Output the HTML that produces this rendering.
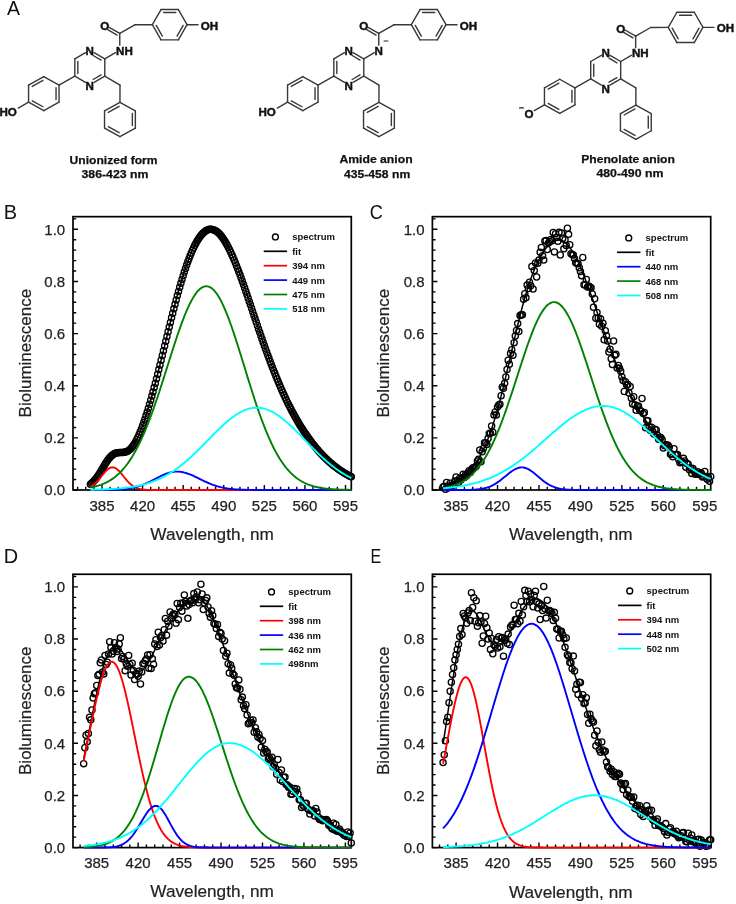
<!DOCTYPE html><html><head><meta charset="utf-8"><style>html,body{margin:0;padding:0;background:#fff;}svg{display:block;will-change:transform;}text{font-family:"Liberation Sans",sans-serif;}</style></head><body>
<svg width="736" height="904" viewBox="0 0 736 904">
<rect width="736" height="904" fill="#fff"/>
<text transform="translate(6.90,14.80) scale(0.93,1)" font-size="21" fill="#111">A</text>
<text transform="translate(3.75,218.90) scale(0.97,1)" font-size="20.6" fill="#111">B</text>
<text transform="translate(369.80,219.30) scale(0.93,1)" font-size="19.5" fill="#111">C</text>
<text transform="translate(3.66,562.70) scale(1.0,1)" font-size="19.9" fill="#111">D</text>
<text transform="translate(370.50,562.90) scale(0.79,1)" font-size="20.3" fill="#111">E</text>
<line x1="74.82" y1="58.80" x2="85.48" y2="52.61" stroke="#383838" stroke-width="1.4" stroke-linecap="round"/>
<line x1="94.12" y1="52.61" x2="104.78" y2="58.80" stroke="#383838" stroke-width="1.4" stroke-linecap="round"/>
<line x1="104.78" y1="58.80" x2="104.78" y2="76.20" stroke="#383838" stroke-width="1.4" stroke-linecap="round"/>
<line x1="104.78" y1="76.20" x2="94.12" y2="82.39" stroke="#383838" stroke-width="1.4" stroke-linecap="round"/>
<line x1="85.48" y1="82.39" x2="74.82" y2="76.20" stroke="#383838" stroke-width="1.4" stroke-linecap="round"/>
<line x1="74.82" y1="76.20" x2="74.82" y2="58.80" stroke="#383838" stroke-width="1.4" stroke-linecap="round"/>
<line x1="77.82" y1="73.60" x2="77.82" y2="61.40" stroke="#383838" stroke-width="1.4" stroke-linecap="round"/>
<line x1="93.14" y1="55.51" x2="101.03" y2="60.09" stroke="#383838" stroke-width="1.4" stroke-linecap="round"/>
<line x1="101.03" y1="74.91" x2="93.14" y2="79.49" stroke="#383838" stroke-width="1.4" stroke-linecap="round"/>
<line x1="104.78" y1="58.80" x2="115.43" y2="52.65" stroke="#383838" stroke-width="1.4" stroke-linecap="round"/>
<line x1="119.76" y1="45.15" x2="119.76" y2="33.45" stroke="#383838" stroke-width="1.4" stroke-linecap="round"/>
<line x1="119.76" y1="33.45" x2="109.11" y2="27.30" stroke="#383838" stroke-width="1.4" stroke-linecap="round"/>
<line x1="117.07" y1="35.12" x2="107.71" y2="29.72" stroke="#383838" stroke-width="1.4" stroke-linecap="round"/>
<line x1="119.76" y1="33.45" x2="134.75" y2="24.80" stroke="#383838" stroke-width="1.4" stroke-linecap="round"/>
<line x1="134.75" y1="24.80" x2="152.35" y2="24.70" stroke="#383838" stroke-width="1.4" stroke-linecap="round"/>
<line x1="152.35" y1="24.70" x2="161.02" y2="9.54" stroke="#383838" stroke-width="1.4" stroke-linecap="round"/>
<line x1="161.02" y1="9.54" x2="178.38" y2="9.54" stroke="#383838" stroke-width="1.4" stroke-linecap="round"/>
<line x1="178.38" y1="9.54" x2="187.05" y2="24.70" stroke="#383838" stroke-width="1.4" stroke-linecap="round"/>
<line x1="187.05" y1="24.70" x2="178.37" y2="39.86" stroke="#383838" stroke-width="1.4" stroke-linecap="round"/>
<line x1="178.37" y1="39.86" x2="161.03" y2="39.86" stroke="#383838" stroke-width="1.4" stroke-linecap="round"/>
<line x1="161.03" y1="39.86" x2="152.35" y2="24.70" stroke="#383838" stroke-width="1.4" stroke-linecap="round"/>
<line x1="163.62" y1="12.54" x2="175.78" y2="12.54" stroke="#383838" stroke-width="1.4" stroke-linecap="round"/>
<line x1="183.15" y1="25.47" x2="177.06" y2="36.11" stroke="#383838" stroke-width="1.4" stroke-linecap="round"/>
<line x1="162.34" y1="36.11" x2="156.25" y2="25.47" stroke="#383838" stroke-width="1.4" stroke-linecap="round"/>
<line x1="187.05" y1="24.70" x2="198.05" y2="24.70" stroke="#383838" stroke-width="1.4" stroke-linecap="round"/>
<line x1="74.82" y1="76.20" x2="59.04" y2="85.07" stroke="#383838" stroke-width="1.4" stroke-linecap="round"/>
<line x1="43.80" y1="76.55" x2="59.04" y2="85.07" stroke="#383838" stroke-width="1.4" stroke-linecap="round"/>
<line x1="59.04" y1="85.07" x2="59.04" y2="102.12" stroke="#383838" stroke-width="1.4" stroke-linecap="round"/>
<line x1="59.04" y1="102.12" x2="43.80" y2="110.65" stroke="#383838" stroke-width="1.4" stroke-linecap="round"/>
<line x1="43.80" y1="110.65" x2="28.56" y2="102.12" stroke="#383838" stroke-width="1.4" stroke-linecap="round"/>
<line x1="28.56" y1="102.12" x2="28.56" y2="85.07" stroke="#383838" stroke-width="1.4" stroke-linecap="round"/>
<line x1="28.56" y1="85.07" x2="43.80" y2="76.55" stroke="#383838" stroke-width="1.4" stroke-linecap="round"/>
<line x1="32.29" y1="86.42" x2="43.00" y2="80.44" stroke="#383838" stroke-width="1.4" stroke-linecap="round"/>
<line x1="56.04" y1="87.67" x2="56.04" y2="99.53" stroke="#383838" stroke-width="1.4" stroke-linecap="round"/>
<line x1="43.00" y1="106.76" x2="32.29" y2="100.78" stroke="#383838" stroke-width="1.4" stroke-linecap="round"/>
<line x1="28.56" y1="102.12" x2="18.34" y2="108.03" stroke="#383838" stroke-width="1.4" stroke-linecap="round"/>
<line x1="104.78" y1="76.20" x2="120.00" y2="85.20" stroke="#383838" stroke-width="1.4" stroke-linecap="round"/>
<line x1="120.00" y1="85.20" x2="119.95" y2="102.40" stroke="#383838" stroke-width="1.4" stroke-linecap="round"/>
<line x1="119.95" y1="102.40" x2="135.37" y2="110.95" stroke="#383838" stroke-width="1.4" stroke-linecap="round"/>
<line x1="135.37" y1="110.95" x2="135.37" y2="128.05" stroke="#383838" stroke-width="1.4" stroke-linecap="round"/>
<line x1="135.37" y1="128.05" x2="119.95" y2="136.60" stroke="#383838" stroke-width="1.4" stroke-linecap="round"/>
<line x1="119.95" y1="136.60" x2="104.53" y2="128.05" stroke="#383838" stroke-width="1.4" stroke-linecap="round"/>
<line x1="104.53" y1="128.05" x2="104.53" y2="110.95" stroke="#383838" stroke-width="1.4" stroke-linecap="round"/>
<line x1="104.53" y1="110.95" x2="119.95" y2="102.40" stroke="#383838" stroke-width="1.4" stroke-linecap="round"/>
<line x1="108.26" y1="112.31" x2="119.13" y2="106.28" stroke="#383838" stroke-width="1.4" stroke-linecap="round"/>
<line x1="132.37" y1="113.55" x2="132.37" y2="125.45" stroke="#383838" stroke-width="1.4" stroke-linecap="round"/>
<line x1="119.13" y1="132.72" x2="108.26" y2="126.69" stroke="#383838" stroke-width="1.4" stroke-linecap="round"/>
<text x="89.80" y="54.70" font-size="11.6" font-weight="bold" text-anchor="middle" fill="#111" stroke="#111" stroke-width="0.45" >N</text>
<text x="89.80" y="89.80" font-size="11.6" font-weight="bold" text-anchor="middle" fill="#111" stroke="#111" stroke-width="0.45" >N</text>
<text x="116.06" y="54.75" font-size="11.6" font-weight="bold" text-anchor="start" fill="#111" stroke="#111" stroke-width="0.45" >NH</text>
<text x="104.78" y="30.10" font-size="11.6" font-weight="bold" text-anchor="middle" fill="#111" stroke="#111" stroke-width="0.45" >O</text>
<text x="200.85" y="29.60" font-size="11.6" font-weight="bold" text-anchor="start" fill="#111" stroke="#111" stroke-width="0.45" >OH</text>
<text x="16.78" y="115.67" font-size="11.6" font-weight="bold" text-anchor="end" fill="#111" stroke="#111" stroke-width="0.45" >HO</text>
<line x1="333.82" y1="58.80" x2="344.48" y2="52.61" stroke="#383838" stroke-width="1.4" stroke-linecap="round"/>
<line x1="353.12" y1="52.61" x2="363.78" y2="58.80" stroke="#383838" stroke-width="1.4" stroke-linecap="round"/>
<line x1="363.78" y1="58.80" x2="363.78" y2="76.20" stroke="#383838" stroke-width="1.4" stroke-linecap="round"/>
<line x1="363.78" y1="76.20" x2="353.12" y2="82.39" stroke="#383838" stroke-width="1.4" stroke-linecap="round"/>
<line x1="344.48" y1="82.39" x2="333.82" y2="76.20" stroke="#383838" stroke-width="1.4" stroke-linecap="round"/>
<line x1="333.82" y1="76.20" x2="333.82" y2="58.80" stroke="#383838" stroke-width="1.4" stroke-linecap="round"/>
<line x1="336.82" y1="73.60" x2="336.82" y2="61.40" stroke="#383838" stroke-width="1.4" stroke-linecap="round"/>
<line x1="352.14" y1="55.51" x2="360.03" y2="60.09" stroke="#383838" stroke-width="1.4" stroke-linecap="round"/>
<line x1="360.03" y1="74.91" x2="352.14" y2="79.49" stroke="#383838" stroke-width="1.4" stroke-linecap="round"/>
<line x1="363.78" y1="58.80" x2="374.43" y2="52.65" stroke="#383838" stroke-width="1.4" stroke-linecap="round"/>
<line x1="378.76" y1="45.15" x2="378.76" y2="33.45" stroke="#383838" stroke-width="1.4" stroke-linecap="round"/>
<line x1="378.76" y1="33.45" x2="368.11" y2="27.30" stroke="#383838" stroke-width="1.4" stroke-linecap="round"/>
<line x1="376.07" y1="35.12" x2="366.71" y2="29.72" stroke="#383838" stroke-width="1.4" stroke-linecap="round"/>
<line x1="378.76" y1="33.45" x2="393.75" y2="24.80" stroke="#383838" stroke-width="1.4" stroke-linecap="round"/>
<line x1="393.75" y1="24.80" x2="411.35" y2="24.70" stroke="#383838" stroke-width="1.4" stroke-linecap="round"/>
<line x1="411.35" y1="24.70" x2="420.02" y2="9.54" stroke="#383838" stroke-width="1.4" stroke-linecap="round"/>
<line x1="420.02" y1="9.54" x2="437.38" y2="9.54" stroke="#383838" stroke-width="1.4" stroke-linecap="round"/>
<line x1="437.38" y1="9.54" x2="446.05" y2="24.70" stroke="#383838" stroke-width="1.4" stroke-linecap="round"/>
<line x1="446.05" y1="24.70" x2="437.38" y2="39.86" stroke="#383838" stroke-width="1.4" stroke-linecap="round"/>
<line x1="437.38" y1="39.86" x2="420.02" y2="39.86" stroke="#383838" stroke-width="1.4" stroke-linecap="round"/>
<line x1="420.02" y1="39.86" x2="411.35" y2="24.70" stroke="#383838" stroke-width="1.4" stroke-linecap="round"/>
<line x1="422.62" y1="12.54" x2="434.77" y2="12.54" stroke="#383838" stroke-width="1.4" stroke-linecap="round"/>
<line x1="442.15" y1="25.47" x2="436.06" y2="36.11" stroke="#383838" stroke-width="1.4" stroke-linecap="round"/>
<line x1="421.34" y1="36.11" x2="415.25" y2="25.47" stroke="#383838" stroke-width="1.4" stroke-linecap="round"/>
<line x1="446.05" y1="24.70" x2="457.05" y2="24.70" stroke="#383838" stroke-width="1.4" stroke-linecap="round"/>
<line x1="333.82" y1="76.20" x2="318.04" y2="85.07" stroke="#383838" stroke-width="1.4" stroke-linecap="round"/>
<line x1="302.80" y1="76.55" x2="318.04" y2="85.07" stroke="#383838" stroke-width="1.4" stroke-linecap="round"/>
<line x1="318.04" y1="85.07" x2="318.04" y2="102.12" stroke="#383838" stroke-width="1.4" stroke-linecap="round"/>
<line x1="318.04" y1="102.12" x2="302.80" y2="110.65" stroke="#383838" stroke-width="1.4" stroke-linecap="round"/>
<line x1="302.80" y1="110.65" x2="287.56" y2="102.12" stroke="#383838" stroke-width="1.4" stroke-linecap="round"/>
<line x1="287.56" y1="102.12" x2="287.56" y2="85.07" stroke="#383838" stroke-width="1.4" stroke-linecap="round"/>
<line x1="287.56" y1="85.07" x2="302.80" y2="76.55" stroke="#383838" stroke-width="1.4" stroke-linecap="round"/>
<line x1="291.29" y1="86.42" x2="302.00" y2="80.44" stroke="#383838" stroke-width="1.4" stroke-linecap="round"/>
<line x1="315.04" y1="87.67" x2="315.04" y2="99.53" stroke="#383838" stroke-width="1.4" stroke-linecap="round"/>
<line x1="302.00" y1="106.76" x2="291.29" y2="100.78" stroke="#383838" stroke-width="1.4" stroke-linecap="round"/>
<line x1="287.56" y1="102.12" x2="277.34" y2="108.03" stroke="#383838" stroke-width="1.4" stroke-linecap="round"/>
<line x1="363.78" y1="76.20" x2="379.00" y2="85.20" stroke="#383838" stroke-width="1.4" stroke-linecap="round"/>
<line x1="379.00" y1="85.20" x2="378.95" y2="102.40" stroke="#383838" stroke-width="1.4" stroke-linecap="round"/>
<line x1="378.95" y1="102.40" x2="394.37" y2="110.95" stroke="#383838" stroke-width="1.4" stroke-linecap="round"/>
<line x1="394.37" y1="110.95" x2="394.37" y2="128.05" stroke="#383838" stroke-width="1.4" stroke-linecap="round"/>
<line x1="394.37" y1="128.05" x2="378.95" y2="136.60" stroke="#383838" stroke-width="1.4" stroke-linecap="round"/>
<line x1="378.95" y1="136.60" x2="363.53" y2="128.05" stroke="#383838" stroke-width="1.4" stroke-linecap="round"/>
<line x1="363.53" y1="128.05" x2="363.53" y2="110.95" stroke="#383838" stroke-width="1.4" stroke-linecap="round"/>
<line x1="363.53" y1="110.95" x2="378.95" y2="102.40" stroke="#383838" stroke-width="1.4" stroke-linecap="round"/>
<line x1="367.26" y1="112.31" x2="378.13" y2="106.28" stroke="#383838" stroke-width="1.4" stroke-linecap="round"/>
<line x1="391.37" y1="113.55" x2="391.37" y2="125.45" stroke="#383838" stroke-width="1.4" stroke-linecap="round"/>
<line x1="378.13" y1="132.72" x2="367.26" y2="126.69" stroke="#383838" stroke-width="1.4" stroke-linecap="round"/>
<text x="348.80" y="54.70" font-size="11.6" font-weight="bold" text-anchor="middle" fill="#111" stroke="#111" stroke-width="0.45" >N</text>
<text x="348.80" y="89.80" font-size="11.6" font-weight="bold" text-anchor="middle" fill="#111" stroke="#111" stroke-width="0.45" >N</text>
<text x="378.76" y="54.75" font-size="11.6" font-weight="bold" text-anchor="middle" fill="#111" stroke="#111" stroke-width="0.45" >N</text>
<line x1="384.06" y1="40.95" x2="387.96" y2="40.95" stroke="#222" stroke-width="1.1" stroke-linecap="round"/>
<text x="363.78" y="30.10" font-size="11.6" font-weight="bold" text-anchor="middle" fill="#111" stroke="#111" stroke-width="0.45" >O</text>
<text x="459.85" y="29.60" font-size="11.6" font-weight="bold" text-anchor="start" fill="#111" stroke="#111" stroke-width="0.45" >OH</text>
<text x="275.78" y="115.67" font-size="11.6" font-weight="bold" text-anchor="end" fill="#111" stroke="#111" stroke-width="0.45" >HO</text>
<line x1="590.72" y1="61.50" x2="601.38" y2="55.31" stroke="#383838" stroke-width="1.4" stroke-linecap="round"/>
<line x1="610.02" y1="55.31" x2="620.68" y2="61.50" stroke="#383838" stroke-width="1.4" stroke-linecap="round"/>
<line x1="620.68" y1="61.50" x2="620.68" y2="78.90" stroke="#383838" stroke-width="1.4" stroke-linecap="round"/>
<line x1="620.68" y1="78.90" x2="610.02" y2="85.09" stroke="#383838" stroke-width="1.4" stroke-linecap="round"/>
<line x1="601.38" y1="85.09" x2="590.72" y2="78.90" stroke="#383838" stroke-width="1.4" stroke-linecap="round"/>
<line x1="590.72" y1="78.90" x2="590.72" y2="61.50" stroke="#383838" stroke-width="1.4" stroke-linecap="round"/>
<line x1="593.72" y1="76.30" x2="593.72" y2="64.10" stroke="#383838" stroke-width="1.4" stroke-linecap="round"/>
<line x1="609.04" y1="58.21" x2="616.93" y2="62.79" stroke="#383838" stroke-width="1.4" stroke-linecap="round"/>
<line x1="616.93" y1="77.61" x2="609.04" y2="82.19" stroke="#383838" stroke-width="1.4" stroke-linecap="round"/>
<line x1="620.68" y1="61.50" x2="631.33" y2="55.35" stroke="#383838" stroke-width="1.4" stroke-linecap="round"/>
<line x1="635.66" y1="47.85" x2="635.66" y2="36.15" stroke="#383838" stroke-width="1.4" stroke-linecap="round"/>
<line x1="635.66" y1="36.15" x2="625.01" y2="30.00" stroke="#383838" stroke-width="1.4" stroke-linecap="round"/>
<line x1="632.97" y1="37.82" x2="623.61" y2="32.42" stroke="#383838" stroke-width="1.4" stroke-linecap="round"/>
<line x1="635.66" y1="36.15" x2="650.65" y2="27.50" stroke="#383838" stroke-width="1.4" stroke-linecap="round"/>
<line x1="650.65" y1="27.50" x2="668.25" y2="27.40" stroke="#383838" stroke-width="1.4" stroke-linecap="round"/>
<line x1="668.25" y1="27.40" x2="676.92" y2="12.24" stroke="#383838" stroke-width="1.4" stroke-linecap="round"/>
<line x1="676.92" y1="12.24" x2="694.27" y2="12.24" stroke="#383838" stroke-width="1.4" stroke-linecap="round"/>
<line x1="694.27" y1="12.24" x2="702.95" y2="27.40" stroke="#383838" stroke-width="1.4" stroke-linecap="round"/>
<line x1="702.95" y1="27.40" x2="694.27" y2="42.56" stroke="#383838" stroke-width="1.4" stroke-linecap="round"/>
<line x1="694.27" y1="42.56" x2="676.92" y2="42.56" stroke="#383838" stroke-width="1.4" stroke-linecap="round"/>
<line x1="676.92" y1="42.56" x2="668.25" y2="27.40" stroke="#383838" stroke-width="1.4" stroke-linecap="round"/>
<line x1="679.52" y1="15.24" x2="691.67" y2="15.24" stroke="#383838" stroke-width="1.4" stroke-linecap="round"/>
<line x1="699.05" y1="28.17" x2="692.96" y2="38.81" stroke="#383838" stroke-width="1.4" stroke-linecap="round"/>
<line x1="678.24" y1="38.81" x2="672.15" y2="28.17" stroke="#383838" stroke-width="1.4" stroke-linecap="round"/>
<line x1="702.95" y1="27.40" x2="713.95" y2="27.40" stroke="#383838" stroke-width="1.4" stroke-linecap="round"/>
<line x1="590.72" y1="78.90" x2="574.94" y2="87.78" stroke="#383838" stroke-width="1.4" stroke-linecap="round"/>
<line x1="559.70" y1="79.25" x2="574.94" y2="87.78" stroke="#383838" stroke-width="1.4" stroke-linecap="round"/>
<line x1="574.94" y1="87.78" x2="574.94" y2="104.82" stroke="#383838" stroke-width="1.4" stroke-linecap="round"/>
<line x1="574.94" y1="104.82" x2="559.70" y2="113.35" stroke="#383838" stroke-width="1.4" stroke-linecap="round"/>
<line x1="559.70" y1="113.35" x2="544.46" y2="104.82" stroke="#383838" stroke-width="1.4" stroke-linecap="round"/>
<line x1="544.46" y1="104.82" x2="544.46" y2="87.77" stroke="#383838" stroke-width="1.4" stroke-linecap="round"/>
<line x1="544.46" y1="87.77" x2="559.70" y2="79.25" stroke="#383838" stroke-width="1.4" stroke-linecap="round"/>
<line x1="548.19" y1="89.12" x2="558.90" y2="83.14" stroke="#383838" stroke-width="1.4" stroke-linecap="round"/>
<line x1="571.94" y1="90.38" x2="571.94" y2="102.22" stroke="#383838" stroke-width="1.4" stroke-linecap="round"/>
<line x1="558.90" y1="109.46" x2="548.19" y2="103.48" stroke="#383838" stroke-width="1.4" stroke-linecap="round"/>
<line x1="544.46" y1="104.82" x2="534.24" y2="110.72" stroke="#383838" stroke-width="1.4" stroke-linecap="round"/>
<line x1="620.68" y1="78.90" x2="635.90" y2="87.90" stroke="#383838" stroke-width="1.4" stroke-linecap="round"/>
<line x1="635.90" y1="87.90" x2="635.85" y2="105.10" stroke="#383838" stroke-width="1.4" stroke-linecap="round"/>
<line x1="635.85" y1="105.10" x2="651.27" y2="113.65" stroke="#383838" stroke-width="1.4" stroke-linecap="round"/>
<line x1="651.27" y1="113.65" x2="651.27" y2="130.75" stroke="#383838" stroke-width="1.4" stroke-linecap="round"/>
<line x1="651.27" y1="130.75" x2="635.85" y2="139.30" stroke="#383838" stroke-width="1.4" stroke-linecap="round"/>
<line x1="635.85" y1="139.30" x2="620.43" y2="130.75" stroke="#383838" stroke-width="1.4" stroke-linecap="round"/>
<line x1="620.43" y1="130.75" x2="620.43" y2="113.65" stroke="#383838" stroke-width="1.4" stroke-linecap="round"/>
<line x1="620.43" y1="113.65" x2="635.85" y2="105.10" stroke="#383838" stroke-width="1.4" stroke-linecap="round"/>
<line x1="624.16" y1="115.01" x2="635.03" y2="108.98" stroke="#383838" stroke-width="1.4" stroke-linecap="round"/>
<line x1="648.27" y1="116.25" x2="648.27" y2="128.15" stroke="#383838" stroke-width="1.4" stroke-linecap="round"/>
<line x1="635.03" y1="135.42" x2="624.16" y2="129.39" stroke="#383838" stroke-width="1.4" stroke-linecap="round"/>
<text x="605.70" y="57.40" font-size="11.6" font-weight="bold" text-anchor="middle" fill="#111" stroke="#111" stroke-width="0.45" >N</text>
<text x="605.70" y="92.50" font-size="11.6" font-weight="bold" text-anchor="middle" fill="#111" stroke="#111" stroke-width="0.45" >N</text>
<text x="631.96" y="57.45" font-size="11.6" font-weight="bold" text-anchor="start" fill="#111" stroke="#111" stroke-width="0.45" >NH</text>
<text x="620.68" y="32.80" font-size="11.6" font-weight="bold" text-anchor="middle" fill="#111" stroke="#111" stroke-width="0.45" >O</text>
<text x="716.75" y="32.30" font-size="11.6" font-weight="bold" text-anchor="start" fill="#111" stroke="#111" stroke-width="0.45" >OH</text>
<text x="528.98" y="118.17" font-size="11.6" font-weight="bold" text-anchor="middle" fill="#111" stroke="#111" stroke-width="0.45" >O</text>
<line x1="519.48" y1="107.88" x2="523.48" y2="107.88" stroke="#222" stroke-width="1.1" stroke-linecap="round"/>
<text x="113.55" y="163.70" font-size="11.2" font-weight="bold" text-anchor="middle" fill="#111" stroke="#111" stroke-width="0.25" textLength="87.9" lengthAdjust="spacingAndGlyphs">Unionized form</text>
<text x="115.00" y="177.80" font-size="11.2" font-weight="bold" text-anchor="middle" fill="#111" stroke="#111" stroke-width="0.25" textLength="67.0" lengthAdjust="spacingAndGlyphs">386-423 nm</text>
<text x="376.00" y="163.10" font-size="11.2" font-weight="bold" text-anchor="middle" fill="#111" stroke="#111" stroke-width="0.25" textLength="73.2" lengthAdjust="spacingAndGlyphs">Amide anion</text>
<text x="377.10" y="177.80" font-size="11.2" font-weight="bold" text-anchor="middle" fill="#111" stroke="#111" stroke-width="0.25" textLength="66.2" lengthAdjust="spacingAndGlyphs">435-458 nm</text>
<text x="628.05" y="162.80" font-size="11.2" font-weight="bold" text-anchor="middle" fill="#111" stroke="#111" stroke-width="0.25" textLength="93.7" lengthAdjust="spacingAndGlyphs">Phenolate anion</text>
<text x="629.90" y="176.80" font-size="11.2" font-weight="bold" text-anchor="middle" fill="#111" stroke="#111" stroke-width="0.25" textLength="67.0" lengthAdjust="spacingAndGlyphs">480-490 nm</text>
<rect x="73.00" y="216.66" width="278.30" height="273.34" fill="none" stroke="#000" stroke-width="1.7"/>
<path d="M73.00,490.00h5.0 M73.00,479.57h3.2 M73.00,469.14h3.2 M73.00,458.72h3.2 M73.00,448.29h3.2 M73.00,437.86h5.0 M73.00,427.43h3.2 M73.00,417.00h3.2 M73.00,406.58h3.2 M73.00,396.15h3.2 M73.00,385.72h5.0 M73.00,375.29h3.2 M73.00,364.86h3.2 M73.00,354.44h3.2 M73.00,344.01h3.2 M73.00,333.58h5.0 M73.00,323.15h3.2 M73.00,312.72h3.2 M73.00,302.30h3.2 M73.00,291.87h3.2 M73.00,281.44h5.0 M73.00,271.01h3.2 M73.00,260.58h3.2 M73.00,250.16h3.2 M73.00,239.73h3.2 M73.00,229.30h5.0 M73.00,218.87h3.2 M77.64,490.00v-3.2 M85.76,490.00v-3.2 M93.87,490.00v-3.2 M101.99,490.00v-5.0 M110.11,490.00v-3.2 M118.22,490.00v-3.2 M126.34,490.00v-3.2 M134.46,490.00v-3.2 M142.57,490.00v-5.0 M150.69,490.00v-3.2 M158.81,490.00v-3.2 M166.93,490.00v-3.2 M175.04,490.00v-3.2 M183.16,490.00v-5.0 M191.28,490.00v-3.2 M199.39,490.00v-3.2 M207.51,490.00v-3.2 M215.63,490.00v-3.2 M223.75,490.00v-5.0 M231.86,490.00v-3.2 M239.98,490.00v-3.2 M248.10,490.00v-3.2 M256.21,490.00v-3.2 M264.33,490.00v-5.0 M272.45,490.00v-3.2 M280.57,490.00v-3.2 M288.68,490.00v-3.2 M296.80,490.00v-3.2 M304.92,490.00v-5.0 M313.03,490.00v-3.2 M321.15,490.00v-3.2 M329.27,490.00v-3.2 M337.38,490.00v-3.2 M345.50,490.00v-5.0" stroke="#000" stroke-width="1.4" fill="none"/>
<text x="65.20" y="495.30" font-size="15" text-anchor="end" fill="#222" stroke="#222" stroke-width="0.25">0.0</text>
<text x="65.20" y="443.16" font-size="15" text-anchor="end" fill="#222" stroke="#222" stroke-width="0.25">0.2</text>
<text x="65.20" y="391.02" font-size="15" text-anchor="end" fill="#222" stroke="#222" stroke-width="0.25">0.4</text>
<text x="65.20" y="338.88" font-size="15" text-anchor="end" fill="#222" stroke="#222" stroke-width="0.25">0.6</text>
<text x="65.20" y="286.74" font-size="15" text-anchor="end" fill="#222" stroke="#222" stroke-width="0.25">0.8</text>
<text x="65.20" y="234.60" font-size="15" text-anchor="end" fill="#222" stroke="#222" stroke-width="0.25">1.0</text>
<text x="101.99" y="510.80" font-size="15" text-anchor="middle" fill="#222" stroke="#222" stroke-width="0.25">385</text>
<text x="142.57" y="510.80" font-size="15" text-anchor="middle" fill="#222" stroke="#222" stroke-width="0.25">420</text>
<text x="183.16" y="510.80" font-size="15" text-anchor="middle" fill="#222" stroke="#222" stroke-width="0.25">455</text>
<text x="223.75" y="510.80" font-size="15" text-anchor="middle" fill="#222" stroke="#222" stroke-width="0.25">490</text>
<text x="264.33" y="510.80" font-size="15" text-anchor="middle" fill="#222" stroke="#222" stroke-width="0.25">525</text>
<text x="304.92" y="510.80" font-size="15" text-anchor="middle" fill="#222" stroke="#222" stroke-width="0.25">560</text>
<text x="345.50" y="510.80" font-size="15" text-anchor="middle" fill="#222" stroke="#222" stroke-width="0.25">595</text>
<text x="212.15" y="539.80" font-size="17.2" text-anchor="middle" fill="#222" stroke="#222" stroke-width="0.2">Wavelength, nm</text>
<text transform="translate(30.50,353.13) rotate(-90)" font-size="17" text-anchor="middle" fill="#222" stroke="#222" stroke-width="0.2">Bioluminescence</text>
<g fill="none" stroke="#000" stroke-width="1.3"><circle cx="90.39" cy="484.26" r="3.1"/><circle cx="91.55" cy="483.32" r="3.1"/><circle cx="92.71" cy="482.25" r="3.1"/><circle cx="93.87" cy="481.05" r="3.1"/><circle cx="95.03" cy="479.71" r="3.1"/><circle cx="96.19" cy="478.24" r="3.1"/><circle cx="97.35" cy="476.65" r="3.1"/><circle cx="98.51" cy="474.94" r="3.1"/><circle cx="99.67" cy="473.14" r="3.1"/><circle cx="100.83" cy="471.26" r="3.1"/><circle cx="101.99" cy="469.34" r="3.1"/><circle cx="103.15" cy="467.40" r="3.1"/><circle cx="104.31" cy="465.47" r="3.1"/><circle cx="105.47" cy="463.59" r="3.1"/><circle cx="106.63" cy="461.79" r="3.1"/><circle cx="107.79" cy="460.11" r="3.1"/><circle cx="108.95" cy="458.57" r="3.1"/><circle cx="110.11" cy="457.19" r="3.1"/><circle cx="111.27" cy="456.00" r="3.1"/><circle cx="112.43" cy="455.00" r="3.1"/><circle cx="113.59" cy="454.19" r="3.1"/><circle cx="114.75" cy="453.57" r="3.1"/><circle cx="115.90" cy="453.12" r="3.1"/><circle cx="117.06" cy="452.82" r="3.1"/><circle cx="118.22" cy="452.64" r="3.1"/><circle cx="119.38" cy="452.55" r="3.1"/><circle cx="120.54" cy="452.51" r="3.1"/><circle cx="121.70" cy="452.47" r="3.1"/><circle cx="122.86" cy="452.41" r="3.1"/><circle cx="124.02" cy="452.28" r="3.1"/><circle cx="125.18" cy="452.04" r="3.1"/><circle cx="126.34" cy="451.67" r="3.1"/><circle cx="127.50" cy="451.15" r="3.1"/><circle cx="128.66" cy="450.43" r="3.1"/><circle cx="129.82" cy="449.53" r="3.1"/><circle cx="130.98" cy="448.41" r="3.1"/><circle cx="132.14" cy="447.07" r="3.1"/><circle cx="133.30" cy="445.52" r="3.1"/><circle cx="134.46" cy="443.75" r="3.1"/><circle cx="135.62" cy="441.76" r="3.1"/><circle cx="136.78" cy="439.57" r="3.1"/><circle cx="137.94" cy="437.18" r="3.1"/><circle cx="139.10" cy="434.60" r="3.1"/><circle cx="140.26" cy="431.84" r="3.1"/><circle cx="141.42" cy="428.90" r="3.1"/><circle cx="142.57" cy="425.80" r="3.1"/><circle cx="143.73" cy="422.55" r="3.1"/><circle cx="144.89" cy="419.15" r="3.1"/><circle cx="146.05" cy="415.61" r="3.1"/><circle cx="147.21" cy="411.94" r="3.1"/><circle cx="148.37" cy="408.15" r="3.1"/><circle cx="149.53" cy="404.24" r="3.1"/><circle cx="150.69" cy="400.22" r="3.1"/><circle cx="151.85" cy="396.10" r="3.1"/><circle cx="153.01" cy="391.88" r="3.1"/><circle cx="154.17" cy="387.57" r="3.1"/><circle cx="155.33" cy="383.18" r="3.1"/><circle cx="156.49" cy="378.72" r="3.1"/><circle cx="157.65" cy="374.19" r="3.1"/><circle cx="158.81" cy="369.60" r="3.1"/><circle cx="159.97" cy="364.96" r="3.1"/><circle cx="161.13" cy="360.27" r="3.1"/><circle cx="162.29" cy="355.56" r="3.1"/><circle cx="163.45" cy="350.82" r="3.1"/><circle cx="164.61" cy="346.07" r="3.1"/><circle cx="165.77" cy="341.31" r="3.1"/><circle cx="166.93" cy="336.56" r="3.1"/><circle cx="168.09" cy="331.83" r="3.1"/><circle cx="169.25" cy="327.11" r="3.1"/><circle cx="170.41" cy="322.44" r="3.1"/><circle cx="171.56" cy="317.80" r="3.1"/><circle cx="172.72" cy="313.22" r="3.1"/><circle cx="173.88" cy="308.70" r="3.1"/><circle cx="175.04" cy="304.25" r="3.1"/><circle cx="176.20" cy="299.88" r="3.1"/><circle cx="177.36" cy="295.59" r="3.1"/><circle cx="178.52" cy="291.39" r="3.1"/><circle cx="179.68" cy="287.29" r="3.1"/><circle cx="180.84" cy="283.30" r="3.1"/><circle cx="182.00" cy="279.41" r="3.1"/><circle cx="183.16" cy="275.64" r="3.1"/><circle cx="184.32" cy="271.99" r="3.1"/><circle cx="185.48" cy="268.46" r="3.1"/><circle cx="186.64" cy="265.07" r="3.1"/><circle cx="187.80" cy="261.82" r="3.1"/><circle cx="188.96" cy="258.70" r="3.1"/><circle cx="190.12" cy="255.73" r="3.1"/><circle cx="191.28" cy="252.90" r="3.1"/><circle cx="192.44" cy="250.23" r="3.1"/><circle cx="193.60" cy="247.71" r="3.1"/><circle cx="194.76" cy="245.34" r="3.1"/><circle cx="195.92" cy="243.13" r="3.1"/><circle cx="197.08" cy="241.09" r="3.1"/><circle cx="198.24" cy="239.20" r="3.1"/><circle cx="199.39" cy="237.47" r="3.1"/><circle cx="200.55" cy="235.91" r="3.1"/><circle cx="201.71" cy="234.51" r="3.1"/><circle cx="202.87" cy="233.28" r="3.1"/><circle cx="204.03" cy="232.20" r="3.1"/><circle cx="205.19" cy="231.30" r="3.1"/><circle cx="206.35" cy="230.56" r="3.1"/><circle cx="207.51" cy="229.98" r="3.1"/><circle cx="208.67" cy="229.58" r="3.1"/><circle cx="209.83" cy="229.36" r="3.1"/><circle cx="210.99" cy="229.30" r="3.1"/><circle cx="212.15" cy="229.41" r="3.1"/><circle cx="213.31" cy="229.69" r="3.1"/><circle cx="214.47" cy="230.14" r="3.1"/><circle cx="215.63" cy="230.75" r="3.1"/><circle cx="216.79" cy="231.53" r="3.1"/><circle cx="217.95" cy="232.46" r="3.1"/><circle cx="219.11" cy="233.55" r="3.1"/><circle cx="220.27" cy="234.78" r="3.1"/><circle cx="221.43" cy="236.17" r="3.1"/><circle cx="222.59" cy="237.71" r="3.1"/><circle cx="223.75" cy="239.38" r="3.1"/><circle cx="224.91" cy="241.19" r="3.1"/><circle cx="226.06" cy="243.13" r="3.1"/><circle cx="227.22" cy="245.20" r="3.1"/><circle cx="228.38" cy="247.39" r="3.1"/><circle cx="229.54" cy="249.70" r="3.1"/><circle cx="230.70" cy="252.13" r="3.1"/><circle cx="231.86" cy="254.65" r="3.1"/><circle cx="233.02" cy="257.28" r="3.1"/><circle cx="234.18" cy="260.01" r="3.1"/><circle cx="235.34" cy="262.82" r="3.1"/><circle cx="236.50" cy="265.72" r="3.1"/><circle cx="237.66" cy="268.69" r="3.1"/><circle cx="238.82" cy="271.74" r="3.1"/><circle cx="239.98" cy="274.85" r="3.1"/><circle cx="241.14" cy="278.02" r="3.1"/><circle cx="242.30" cy="281.24" r="3.1"/><circle cx="243.46" cy="284.51" r="3.1"/><circle cx="244.62" cy="287.82" r="3.1"/><circle cx="245.78" cy="291.17" r="3.1"/><circle cx="246.94" cy="294.55" r="3.1"/><circle cx="248.10" cy="297.96" r="3.1"/><circle cx="249.26" cy="301.38" r="3.1"/><circle cx="250.42" cy="304.82" r="3.1"/><circle cx="251.58" cy="308.26" r="3.1"/><circle cx="252.74" cy="311.71" r="3.1"/><circle cx="253.90" cy="315.16" r="3.1"/><circle cx="255.05" cy="318.61" r="3.1"/><circle cx="256.21" cy="322.05" r="3.1"/><circle cx="257.37" cy="325.47" r="3.1"/><circle cx="258.53" cy="328.88" r="3.1"/><circle cx="259.69" cy="332.27" r="3.1"/><circle cx="260.85" cy="335.63" r="3.1"/><circle cx="262.01" cy="338.97" r="3.1"/><circle cx="263.17" cy="342.29" r="3.1"/><circle cx="264.33" cy="345.57" r="3.1"/><circle cx="265.49" cy="348.81" r="3.1"/><circle cx="266.65" cy="352.03" r="3.1"/><circle cx="267.81" cy="355.20" r="3.1"/><circle cx="268.97" cy="358.34" r="3.1"/><circle cx="270.13" cy="361.43" r="3.1"/><circle cx="271.29" cy="364.48" r="3.1"/><circle cx="272.45" cy="367.49" r="3.1"/><circle cx="273.61" cy="370.45" r="3.1"/><circle cx="274.77" cy="373.37" r="3.1"/><circle cx="275.93" cy="376.24" r="3.1"/><circle cx="277.09" cy="379.07" r="3.1"/><circle cx="278.25" cy="381.85" r="3.1"/><circle cx="279.41" cy="384.58" r="3.1"/><circle cx="280.57" cy="387.26" r="3.1"/><circle cx="281.73" cy="389.90" r="3.1"/><circle cx="282.88" cy="392.49" r="3.1"/><circle cx="284.04" cy="395.03" r="3.1"/><circle cx="285.20" cy="397.53" r="3.1"/><circle cx="286.36" cy="399.97" r="3.1"/><circle cx="287.52" cy="402.38" r="3.1"/><circle cx="288.68" cy="404.71" r="3.1"/><circle cx="289.84" cy="407.00" r="3.1"/><circle cx="291.00" cy="409.25" r="3.1"/><circle cx="292.16" cy="411.45" r="3.1"/><circle cx="293.32" cy="413.60" r="3.1"/><circle cx="294.48" cy="415.72" r="3.1"/><circle cx="295.64" cy="417.79" r="3.1"/><circle cx="296.80" cy="419.81" r="3.1"/><circle cx="297.96" cy="421.80" r="3.1"/><circle cx="299.12" cy="423.75" r="3.1"/><circle cx="300.28" cy="425.65" r="3.1"/><circle cx="301.44" cy="427.52" r="3.1"/><circle cx="302.60" cy="429.35" r="3.1"/><circle cx="303.76" cy="431.14" r="3.1"/><circle cx="304.92" cy="432.89" r="3.1"/><circle cx="306.08" cy="434.60" r="3.1"/><circle cx="307.24" cy="436.28" r="3.1"/><circle cx="308.40" cy="437.92" r="3.1"/><circle cx="309.56" cy="439.52" r="3.1"/><circle cx="310.71" cy="441.09" r="3.1"/><circle cx="311.87" cy="442.63" r="3.1"/><circle cx="313.03" cy="444.13" r="3.1"/><circle cx="314.19" cy="445.59" r="3.1"/><circle cx="315.35" cy="447.03" r="3.1"/><circle cx="316.51" cy="448.43" r="3.1"/><circle cx="317.67" cy="449.79" r="3.1"/><circle cx="318.83" cy="451.13" r="3.1"/><circle cx="319.99" cy="452.43" r="3.1"/><circle cx="321.15" cy="453.70" r="3.1"/><circle cx="322.31" cy="454.94" r="3.1"/><circle cx="323.47" cy="456.15" r="3.1"/><circle cx="324.63" cy="457.33" r="3.1"/><circle cx="325.79" cy="458.47" r="3.1"/><circle cx="326.95" cy="459.59" r="3.1"/><circle cx="328.11" cy="460.68" r="3.1"/><circle cx="329.27" cy="461.74" r="3.1"/><circle cx="330.43" cy="462.77" r="3.1"/><circle cx="331.59" cy="463.77" r="3.1"/><circle cx="332.75" cy="464.74" r="3.1"/><circle cx="333.91" cy="465.69" r="3.1"/><circle cx="335.07" cy="466.61" r="3.1"/><circle cx="336.23" cy="467.50" r="3.1"/><circle cx="337.38" cy="468.36" r="3.1"/><circle cx="338.54" cy="469.20" r="3.1"/><circle cx="339.70" cy="470.01" r="3.1"/><circle cx="340.86" cy="470.79" r="3.1"/><circle cx="342.02" cy="471.55" r="3.1"/><circle cx="343.18" cy="472.29" r="3.1"/><circle cx="344.34" cy="473.00" r="3.1"/><circle cx="345.50" cy="473.68" r="3.1"/><circle cx="346.66" cy="474.37" r="3.1"/><circle cx="347.82" cy="475.03" r="3.1"/><circle cx="348.98" cy="475.66" r="3.1"/><circle cx="350.14" cy="476.28" r="3.1"/><circle cx="351.30" cy="476.87" r="3.1"/></g>
<polyline points="90.39,484.25 91.55,483.31 92.71,482.24 93.87,481.03 95.03,479.70 96.19,478.23 97.35,476.63 98.51,474.92 99.67,473.12 100.83,471.24 101.99,469.31 103.15,467.37 104.31,465.44 105.47,463.56 106.63,461.76 107.79,460.07 108.95,458.53 110.11,457.15 111.27,455.96 112.43,454.96 113.59,454.15 114.75,453.53 115.90,453.08 117.06,452.78 118.22,452.60 119.38,452.51 120.54,452.46 121.70,452.43 122.86,452.36 124.02,452.23 125.18,452.00 126.34,451.63 127.50,451.10 128.66,450.39 129.82,449.48 130.98,448.36 132.14,447.02 133.30,445.47 134.46,443.69 135.62,441.71 136.78,439.51 137.94,437.12 139.10,434.53 140.26,431.77 141.42,428.83 142.57,425.72 143.73,422.47 144.89,419.06 146.05,415.52 147.21,411.85 148.37,408.05 149.53,404.14 150.69,400.11 151.85,395.98 153.01,391.76 154.17,387.45 155.33,383.05 156.49,378.58 157.65,374.05 158.81,369.45 159.97,364.81 161.13,360.12 162.29,355.40 163.45,350.66 164.61,345.90 165.77,341.14 166.93,336.38 168.09,331.64 169.25,326.92 170.41,322.24 171.56,317.59 172.72,313.01 173.88,308.48 175.04,304.03 176.20,299.65 177.36,295.36 178.52,291.16 179.68,287.05 180.84,283.05 182.00,279.16 183.16,275.38 184.32,271.73 185.48,268.20 186.64,264.80 187.80,261.54 188.96,258.42 190.12,255.45 191.28,252.62 192.44,249.94 193.60,247.42 194.76,245.05 195.92,242.84 197.08,240.79 198.24,238.90 199.39,237.17 200.55,235.60 201.71,234.20 202.87,232.97 204.03,231.90 205.19,230.99 206.35,230.25 207.51,229.67 208.67,229.27 209.83,229.04 210.99,228.99 212.15,229.10 213.31,229.38 214.47,229.83 215.63,230.44 216.79,231.22 217.95,232.15 219.11,233.24 220.27,234.48 221.43,235.87 222.59,237.40 223.75,239.08 224.91,240.89 226.06,242.84 227.22,244.91 228.38,247.10 229.54,249.42 230.70,251.84 231.86,254.37 233.02,257.00 234.18,259.73 235.34,262.55 236.50,265.45 237.66,268.43 238.82,271.47 239.98,274.59 241.14,277.76 242.30,280.99 243.46,284.27 244.62,287.58 245.78,290.94 246.94,294.32 248.10,297.73 249.26,301.15 250.42,304.59 251.58,308.05 252.74,311.50 253.90,314.95 255.05,318.40 256.21,321.84 257.37,325.27 258.53,328.68 259.69,332.08 260.85,335.45 262.01,338.79 263.17,342.11 264.33,345.39 265.49,348.64 266.65,351.86 267.81,355.04 268.97,358.18 270.13,361.28 271.29,364.33 272.45,367.34 273.61,370.31 274.77,373.23 275.93,376.11 277.09,378.94 278.25,381.72 279.41,384.45 280.57,387.14 281.73,389.78 282.88,392.37 284.04,394.92 285.20,397.41 286.36,399.87 287.52,402.27 288.68,404.63 289.84,406.94 291.00,409.21 292.16,411.44 293.32,413.62 294.48,415.75 295.64,417.85 296.80,419.90 297.96,421.91 299.12,423.88 300.28,425.81 301.44,427.70 302.60,429.55 303.76,431.36 304.92,433.13 306.08,434.87 307.24,436.57 308.40,438.23 309.56,439.86 310.71,441.45 311.87,443.01 313.03,444.53 314.19,446.02 315.35,447.48 316.51,448.90 317.67,450.29 318.83,451.64 319.99,452.97 321.15,454.26 322.31,455.52 323.47,456.75 324.63,457.95 325.79,459.12 326.95,460.26 328.11,461.38 329.27,462.46 330.43,463.51 331.59,464.53 332.75,465.53 333.91,466.49 335.07,467.43 336.23,468.35 337.38,469.23 338.54,470.09 339.70,470.92 340.86,471.73 342.02,472.51 343.18,473.27 344.34,474.00 345.50,474.71 346.66,475.39 347.82,476.05 348.98,476.69 350.14,477.30 351.30,477.90" fill="none" stroke="#000" stroke-width="1.5" stroke-linejoin="round"/>
<polyline points="90.39,486.93 91.55,486.23 92.71,485.43 93.87,484.51 95.03,483.48 96.19,482.34 97.35,481.11 98.51,479.79 99.67,478.40 100.83,476.97 101.99,475.52 103.15,474.09 104.31,472.71 105.47,471.42 106.63,470.25 107.79,469.24 108.95,468.42 110.11,467.82 111.27,467.44 112.43,467.32 113.59,467.44 114.75,467.82 115.90,468.42 117.06,469.24 118.22,470.25 119.38,471.42 120.54,472.71 121.70,474.09 122.86,475.52 124.02,476.97 125.18,478.40 126.34,479.79 127.50,481.11 128.66,482.34 129.82,483.48 130.98,484.51 132.14,485.43 133.30,486.23 134.46,486.93 135.62,487.53 136.78,488.03 137.94,488.45 139.10,488.79 140.26,489.07 141.42,489.29 142.57,489.46 143.73,489.60 144.89,489.71 146.05,489.79 147.21,489.85 148.37,489.89 149.53,489.92 150.69,489.95 151.85,489.96 153.01,489.97 154.17,489.98 155.33,489.99 156.49,489.99 157.65,490.00 158.81,490.00 159.97,490.00 161.13,490.00 162.29,490.00 163.45,490.00 164.61,490.00 165.77,490.00 166.93,490.00 168.09,490.00 169.25,490.00 170.41,490.00 171.56,490.00 172.72,490.00 173.88,490.00 175.04,490.00 176.20,490.00 177.36,490.00 178.52,490.00 179.68,490.00 180.84,490.00 182.00,490.00 183.16,490.00 184.32,490.00 185.48,490.00 186.64,490.00 187.80,490.00 188.96,490.00 190.12,490.00 191.28,490.00 192.44,490.00 193.60,490.00 194.76,490.00 195.92,490.00 197.08,490.00 198.24,490.00 199.39,490.00 200.55,490.00 201.71,490.00 202.87,490.00 204.03,490.00 205.19,490.00 206.35,490.00 207.51,490.00 208.67,490.00 209.83,490.00 210.99,490.00 212.15,490.00 213.31,490.00 214.47,490.00 215.63,490.00 216.79,490.00 217.95,490.00 219.11,490.00 220.27,490.00 221.43,490.00 222.59,490.00 223.75,490.00 224.91,490.00 226.06,490.00 227.22,490.00 228.38,490.00 229.54,490.00 230.70,490.00 231.86,490.00 233.02,490.00 234.18,490.00 235.34,490.00 236.50,490.00 237.66,490.00 238.82,490.00 239.98,490.00 241.14,490.00 242.30,490.00 243.46,490.00 244.62,490.00 245.78,490.00 246.94,490.00 248.10,490.00 249.26,490.00 250.42,490.00 251.58,490.00 252.74,490.00 253.90,490.00 255.05,490.00 256.21,490.00 257.37,490.00 258.53,490.00 259.69,490.00 260.85,490.00 262.01,490.00 263.17,490.00 264.33,490.00 265.49,490.00 266.65,490.00 267.81,490.00 268.97,490.00 270.13,490.00 271.29,490.00 272.45,490.00 273.61,490.00 274.77,490.00 275.93,490.00 277.09,490.00 278.25,490.00 279.41,490.00 280.57,490.00 281.73,490.00 282.88,490.00 284.04,490.00 285.20,490.00 286.36,490.00 287.52,490.00 288.68,490.00 289.84,490.00 291.00,490.00 292.16,490.00 293.32,490.00 294.48,490.00 295.64,490.00 296.80,490.00 297.96,490.00 299.12,490.00 300.28,490.00 301.44,490.00 302.60,490.00 303.76,490.00 304.92,490.00 306.08,490.00 307.24,490.00 308.40,490.00 309.56,490.00 310.71,490.00 311.87,490.00 313.03,490.00 314.19,490.00 315.35,490.00 316.51,490.00 317.67,490.00 318.83,490.00 319.99,490.00 321.15,490.00 322.31,490.00 323.47,490.00 324.63,490.00 325.79,490.00 326.95,490.00 328.11,490.00 329.27,490.00 330.43,490.00 331.59,490.00 332.75,490.00 333.91,490.00 335.07,490.00 336.23,490.00 337.38,490.00 338.54,490.00 339.70,490.00 340.86,490.00 342.02,490.00 343.18,490.00 344.34,490.00 345.50,490.00 346.66,490.00 347.82,490.00 348.98,490.00 350.14,490.00 351.30,490.00" fill="none" stroke="#ff0000" stroke-width="1.9" stroke-linejoin="round"/>
<polyline points="90.39,489.99 91.55,489.99 92.71,489.99 93.87,489.99 95.03,489.99 96.19,489.98 97.35,489.98 98.51,489.98 99.67,489.97 100.83,489.97 101.99,489.96 103.15,489.95 104.31,489.94 105.47,489.93 106.63,489.91 107.79,489.90 108.95,489.88 110.11,489.86 111.27,489.83 112.43,489.80 113.59,489.76 114.75,489.72 115.90,489.68 117.06,489.62 118.22,489.56 119.38,489.49 120.54,489.42 121.70,489.33 122.86,489.23 124.02,489.12 125.18,488.99 126.34,488.85 127.50,488.70 128.66,488.53 129.82,488.34 130.98,488.14 132.14,487.91 133.30,487.67 134.46,487.40 135.62,487.11 136.78,486.80 137.94,486.46 139.10,486.10 140.26,485.72 141.42,485.31 142.57,484.88 143.73,484.43 144.89,483.95 146.05,483.45 147.21,482.93 148.37,482.40 149.53,481.84 150.69,481.27 151.85,480.69 153.01,480.10 154.17,479.50 155.33,478.90 156.49,478.29 157.65,477.69 158.81,477.10 159.97,476.52 161.13,475.95 162.29,475.40 163.45,474.88 164.61,474.38 165.77,473.91 166.93,473.48 168.09,473.08 169.25,472.73 170.41,472.42 171.56,472.15 172.72,471.94 173.88,471.78 175.04,471.66 176.20,471.60 177.36,471.60 178.52,471.64 179.68,471.73 180.84,471.87 182.00,472.06 183.16,472.29 184.32,472.56 185.48,472.87 186.64,473.23 187.80,473.61 188.96,474.03 190.12,474.49 191.28,474.96 192.44,475.47 193.60,475.99 194.76,476.53 195.92,477.08 197.08,477.64 198.24,478.21 199.39,478.78 200.55,479.35 201.71,479.92 202.87,480.49 204.03,481.04 205.19,481.59 206.35,482.12 207.51,482.64 208.67,483.14 209.83,483.63 210.99,484.09 212.15,484.54 213.31,484.97 214.47,485.37 215.63,485.75 216.79,486.12 217.95,486.46 219.11,486.78 220.27,487.07 221.43,487.35 222.59,487.61 223.75,487.85 224.91,488.07 226.06,488.27 227.22,488.45 228.38,488.62 229.54,488.78 230.70,488.91 231.86,489.04 233.02,489.15 234.18,489.26 235.34,489.35 236.50,489.43 237.66,489.50 238.82,489.57 239.98,489.62 241.14,489.67 242.30,489.72 243.46,489.76 244.62,489.79 245.78,489.82 246.94,489.85 248.10,489.87 249.26,489.89 250.42,489.91 251.58,489.92 252.74,489.93 253.90,489.94 255.05,489.95 256.21,489.96 257.37,489.97 258.53,489.97 259.69,489.98 260.85,489.98 262.01,489.98 263.17,489.99 264.33,489.99 265.49,489.99 266.65,489.99 267.81,489.99 268.97,490.00 270.13,490.00 271.29,490.00 272.45,490.00 273.61,490.00 274.77,490.00 275.93,490.00 277.09,490.00 278.25,490.00 279.41,490.00 280.57,490.00 281.73,490.00 282.88,490.00 284.04,490.00 285.20,490.00 286.36,490.00 287.52,490.00 288.68,490.00 289.84,490.00 291.00,490.00 292.16,490.00 293.32,490.00 294.48,490.00 295.64,490.00 296.80,490.00 297.96,490.00 299.12,490.00 300.28,490.00 301.44,490.00 302.60,490.00 303.76,490.00 304.92,490.00 306.08,490.00 307.24,490.00 308.40,490.00 309.56,490.00 310.71,490.00 311.87,490.00 313.03,490.00 314.19,490.00 315.35,490.00 316.51,490.00 317.67,490.00 318.83,490.00 319.99,490.00 321.15,490.00 322.31,490.00 323.47,490.00 324.63,490.00 325.79,490.00 326.95,490.00 328.11,490.00 329.27,490.00 330.43,490.00 331.59,490.00 332.75,490.00 333.91,490.00 335.07,490.00 336.23,490.00 337.38,490.00 338.54,490.00 339.70,490.00 340.86,490.00 342.02,490.00 343.18,490.00 344.34,490.00 345.50,490.00 346.66,490.00 347.82,490.00 348.98,490.00 350.14,490.00 351.30,490.00" fill="none" stroke="#0000ff" stroke-width="1.9" stroke-linejoin="round"/>
<polyline points="90.39,487.57 91.55,487.35 92.71,487.10 93.87,486.84 95.03,486.56 96.19,486.26 97.35,485.93 98.51,485.58 99.67,485.20 100.83,484.80 101.99,484.36 103.15,483.90 104.31,483.40 105.47,482.87 106.63,482.30 107.79,481.69 108.95,481.05 110.11,480.36 111.27,479.63 112.43,478.85 113.59,478.03 114.75,477.16 115.90,476.23 117.06,475.25 118.22,474.22 119.38,473.13 120.54,471.98 121.70,470.77 122.86,469.49 124.02,468.15 125.18,466.74 126.34,465.26 127.50,463.72 128.66,462.10 129.82,460.40 130.98,458.64 132.14,456.79 133.30,454.87 134.46,452.87 135.62,450.79 136.78,448.63 137.94,446.40 139.10,444.08 140.26,441.68 141.42,439.20 142.57,436.64 143.73,434.00 144.89,431.28 146.05,428.49 147.21,425.61 148.37,422.67 149.53,419.65 150.69,416.56 151.85,413.41 153.01,410.19 154.17,406.90 155.33,403.56 156.49,400.17 157.65,396.72 158.81,393.23 159.97,389.70 161.13,386.12 162.29,382.52 163.45,378.89 164.61,375.24 165.77,371.57 166.93,367.90 168.09,364.22 169.25,360.55 170.41,356.88 171.56,353.24 172.72,349.62 173.88,346.03 175.04,342.48 176.20,338.98 177.36,335.53 178.52,332.14 179.68,328.82 180.84,325.57 182.00,322.41 183.16,319.34 184.32,316.37 185.48,313.50 186.64,310.74 187.80,308.10 188.96,305.59 190.12,303.20 191.28,300.96 192.44,298.85 193.60,296.89 194.76,295.09 195.92,293.44 197.08,291.96 198.24,290.64 199.39,289.49 200.55,288.51 201.71,287.70 202.87,287.07 204.03,286.62 205.19,286.35 206.35,286.26 207.51,286.36 208.67,286.64 209.83,287.12 210.99,287.78 212.15,288.63 213.31,289.66 214.47,290.88 215.63,292.27 216.79,293.84 217.95,295.57 219.11,297.47 220.27,299.53 221.43,301.74 222.59,304.11 223.75,306.61 224.91,309.25 226.06,312.02 227.22,314.91 228.38,317.91 229.54,321.02 230.70,324.23 231.86,327.53 233.02,330.91 234.18,334.37 235.34,337.89 236.50,341.48 237.66,345.11 238.82,348.79 239.98,352.51 241.14,356.25 242.30,360.01 243.46,363.78 244.62,367.56 245.78,371.34 246.94,375.10 248.10,378.86 249.26,382.59 250.42,386.29 251.58,389.96 252.74,393.58 253.90,397.17 255.05,400.70 256.21,404.18 257.37,407.60 258.53,410.96 259.69,414.25 260.85,417.48 262.01,420.63 263.17,423.70 264.33,426.70 265.49,429.62 266.65,432.46 267.81,435.22 268.97,437.89 270.13,440.48 271.29,442.99 272.45,445.41 273.61,447.74 274.77,449.99 275.93,452.16 277.09,454.24 278.25,456.24 279.41,458.15 280.57,459.99 281.73,461.75 282.88,463.43 284.04,465.03 285.20,466.56 286.36,468.01 287.52,469.39 288.68,470.71 289.84,471.96 291.00,473.14 292.16,474.26 293.32,475.32 294.48,476.32 295.64,477.26 296.80,478.15 297.96,478.99 299.12,479.78 300.28,480.52 301.44,481.22 302.60,481.87 303.76,482.48 304.92,483.05 306.08,483.59 307.24,484.08 308.40,484.55 309.56,484.98 310.71,485.39 311.87,485.76 313.03,486.11 314.19,486.43 315.35,486.73 316.51,487.01 317.67,487.26 318.83,487.50 319.99,487.72 321.15,487.92 322.31,488.10 323.47,488.27 324.63,488.43 325.79,488.57 326.95,488.70 328.11,488.82 329.27,488.94 330.43,489.04 331.59,489.13 332.75,489.21 333.91,489.29 335.07,489.36 336.23,489.42 337.38,489.48 338.54,489.53 339.70,489.58 340.86,489.62 342.02,489.66 343.18,489.70 344.34,489.73 345.50,489.76 346.66,489.78 347.82,489.81 348.98,489.83 350.14,489.85 351.30,489.86" fill="none" stroke="#008000" stroke-width="1.9" stroke-linejoin="round"/>
<polyline points="90.39,489.76 91.55,489.74 92.71,489.72 93.87,489.69 95.03,489.67 96.19,489.64 97.35,489.61 98.51,489.58 99.67,489.55 100.83,489.51 101.99,489.47 103.15,489.43 104.31,489.39 105.47,489.34 106.63,489.29 107.79,489.24 108.95,489.18 110.11,489.12 111.27,489.05 112.43,488.98 113.59,488.91 114.75,488.83 115.90,488.75 117.06,488.66 118.22,488.56 119.38,488.46 120.54,488.36 121.70,488.24 122.86,488.12 124.02,488.00 125.18,487.86 126.34,487.72 127.50,487.57 128.66,487.42 129.82,487.25 130.98,487.07 132.14,486.89 133.30,486.69 134.46,486.49 135.62,486.27 136.78,486.05 137.94,485.81 139.10,485.56 140.26,485.30 141.42,485.03 142.57,484.74 143.73,484.44 144.89,484.12 146.05,483.80 147.21,483.45 148.37,483.09 149.53,482.72 150.69,482.33 151.85,481.92 153.01,481.50 154.17,481.06 155.33,480.60 156.49,480.13 157.65,479.64 158.81,479.12 159.97,478.59 161.13,478.04 162.29,477.48 163.45,476.89 164.61,476.28 165.77,475.65 166.93,475.00 168.09,474.33 169.25,473.64 170.41,472.93 171.56,472.20 172.72,471.45 173.88,470.68 175.04,469.88 176.20,469.07 177.36,468.23 178.52,467.38 179.68,466.50 180.84,465.61 182.00,464.69 183.16,463.75 184.32,462.80 185.48,461.83 186.64,460.84 187.80,459.83 188.96,458.80 190.12,457.76 191.28,456.70 192.44,455.63 193.60,454.54 194.76,453.43 195.92,452.32 197.08,451.19 198.24,450.05 199.39,448.90 200.55,447.75 201.71,446.58 202.87,445.41 204.03,444.23 205.19,443.05 206.35,441.86 207.51,440.67 208.67,439.49 209.83,438.30 210.99,437.11 212.15,435.93 213.31,434.75 214.47,433.58 215.63,432.42 216.79,431.27 217.95,430.12 219.11,428.99 220.27,427.87 221.43,426.77 222.59,425.69 223.75,424.62 224.91,423.58 226.06,422.55 227.22,421.55 228.38,420.57 229.54,419.62 230.70,418.70 231.86,417.80 233.02,416.94 234.18,416.11 235.34,415.31 236.50,414.54 237.66,413.81 238.82,413.12 239.98,412.46 241.14,411.84 242.30,411.26 243.46,410.73 244.62,410.23 245.78,409.78 246.94,409.37 248.10,409.00 249.26,408.68 250.42,408.40 251.58,408.17 252.74,407.98 253.90,407.84 255.05,407.75 256.21,407.70 257.37,407.70 258.53,407.75 259.69,407.85 260.85,407.99 262.01,408.18 263.17,408.42 264.33,408.70 265.49,409.03 266.65,409.41 267.81,409.83 268.97,410.29 270.13,410.80 271.29,411.35 272.45,411.94 273.61,412.57 274.77,413.24 275.93,413.95 277.09,414.70 278.25,415.48 279.41,416.30 280.57,417.15 281.73,418.03 282.88,418.95 284.04,419.89 285.20,420.86 286.36,421.86 287.52,422.88 288.68,423.92 289.84,424.99 291.00,426.07 292.16,427.18 293.32,428.30 294.48,429.43 295.64,430.58 296.80,431.74 297.96,432.92 299.12,434.10 300.28,435.28 301.44,436.48 302.60,437.68 303.76,438.88 304.92,440.08 306.08,441.28 307.24,442.48 308.40,443.68 309.56,444.88 310.71,446.07 311.87,447.25 313.03,448.42 314.19,449.59 315.35,450.75 316.51,451.89 317.67,453.03 318.83,454.15 319.99,455.25 321.15,456.35 322.31,457.42 323.47,458.48 324.63,459.53 325.79,460.55 326.95,461.56 328.11,462.55 329.27,463.52 330.43,464.47 331.59,465.40 332.75,466.31 333.91,467.20 335.07,468.07 336.23,468.92 337.38,469.75 338.54,470.56 339.70,471.34 340.86,472.11 342.02,472.85 343.18,473.57 344.34,474.27 345.50,474.95 346.66,475.61 347.82,476.25 348.98,476.86 350.14,477.46 351.30,478.03" fill="none" stroke="#00ffff" stroke-width="1.9" stroke-linejoin="round"/>
<circle cx="275.40" cy="236.90" r="2.95" fill="none" stroke="#000" stroke-width="1.4"/>
<text x="292.20" y="240.20" font-size="9.5" font-weight="bold" fill="#111">spectrum</text>
<line x1="263.70" y1="251.30" x2="287.10" y2="251.30" stroke="#000" stroke-width="1.7"/>
<text x="292.20" y="254.70" font-size="9.5" font-weight="bold" fill="#111">fit</text>
<line x1="263.70" y1="265.70" x2="287.10" y2="265.70" stroke="#ff0000" stroke-width="1.7"/>
<text x="292.20" y="269.10" font-size="9.5" font-weight="bold" fill="#111">394 nm</text>
<line x1="263.70" y1="280.10" x2="287.10" y2="280.10" stroke="#0000ff" stroke-width="1.7"/>
<text x="292.20" y="283.50" font-size="9.5" font-weight="bold" fill="#111">449 nm</text>
<line x1="263.70" y1="294.50" x2="287.10" y2="294.50" stroke="#008000" stroke-width="1.7"/>
<text x="292.20" y="297.90" font-size="9.5" font-weight="bold" fill="#111">475 nm</text>
<line x1="263.70" y1="308.90" x2="287.10" y2="308.90" stroke="#00ffff" stroke-width="1.7"/>
<text x="292.20" y="312.30" font-size="9.5" font-weight="bold" fill="#111">518 nm</text>
<rect x="432.40" y="216.66" width="278.30" height="273.34" fill="none" stroke="#000" stroke-width="1.7"/>
<path d="M432.40,490.00h5.0 M432.40,479.57h3.2 M432.40,469.14h3.2 M432.40,458.72h3.2 M432.40,448.29h3.2 M432.40,437.86h5.0 M432.40,427.43h3.2 M432.40,417.00h3.2 M432.40,406.58h3.2 M432.40,396.15h3.2 M432.40,385.72h5.0 M432.40,375.29h3.2 M432.40,364.86h3.2 M432.40,354.44h3.2 M432.40,344.01h3.2 M432.40,333.58h5.0 M432.40,323.15h3.2 M432.40,312.72h3.2 M432.40,302.30h3.2 M432.40,291.87h3.2 M432.40,281.44h5.0 M432.40,271.01h3.2 M432.40,260.58h3.2 M432.40,250.16h3.2 M432.40,239.73h3.2 M432.40,229.30h5.0 M432.40,218.87h3.2 M439.51,490.00v-3.2 M447.80,490.00v-3.2 M456.09,490.00v-5.0 M464.37,490.00v-3.2 M472.66,490.00v-3.2 M480.95,490.00v-3.2 M489.24,490.00v-3.2 M497.53,490.00v-5.0 M505.82,490.00v-3.2 M514.11,490.00v-3.2 M522.40,490.00v-3.2 M530.69,490.00v-3.2 M538.98,490.00v-5.0 M547.27,490.00v-3.2 M555.56,490.00v-3.2 M563.85,490.00v-3.2 M572.14,490.00v-3.2 M580.43,490.00v-5.0 M588.72,490.00v-3.2 M597.01,490.00v-3.2 M605.30,490.00v-3.2 M613.59,490.00v-3.2 M621.88,490.00v-5.0 M630.17,490.00v-3.2 M638.46,490.00v-3.2 M646.75,490.00v-3.2 M655.04,490.00v-3.2 M663.33,490.00v-5.0 M671.62,490.00v-3.2 M679.91,490.00v-3.2 M688.20,490.00v-3.2 M696.49,490.00v-3.2 M704.78,490.00v-5.0" stroke="#000" stroke-width="1.4" fill="none"/>
<text x="424.60" y="495.30" font-size="15" text-anchor="end" fill="#222" stroke="#222" stroke-width="0.25">0.0</text>
<text x="424.60" y="443.16" font-size="15" text-anchor="end" fill="#222" stroke="#222" stroke-width="0.25">0.2</text>
<text x="424.60" y="391.02" font-size="15" text-anchor="end" fill="#222" stroke="#222" stroke-width="0.25">0.4</text>
<text x="424.60" y="338.88" font-size="15" text-anchor="end" fill="#222" stroke="#222" stroke-width="0.25">0.6</text>
<text x="424.60" y="286.74" font-size="15" text-anchor="end" fill="#222" stroke="#222" stroke-width="0.25">0.8</text>
<text x="424.60" y="234.60" font-size="15" text-anchor="end" fill="#222" stroke="#222" stroke-width="0.25">1.0</text>
<text x="456.09" y="510.80" font-size="15" text-anchor="middle" fill="#222" stroke="#222" stroke-width="0.25">385</text>
<text x="497.53" y="510.80" font-size="15" text-anchor="middle" fill="#222" stroke="#222" stroke-width="0.25">420</text>
<text x="538.98" y="510.80" font-size="15" text-anchor="middle" fill="#222" stroke="#222" stroke-width="0.25">455</text>
<text x="580.43" y="510.80" font-size="15" text-anchor="middle" fill="#222" stroke="#222" stroke-width="0.25">490</text>
<text x="621.88" y="510.80" font-size="15" text-anchor="middle" fill="#222" stroke="#222" stroke-width="0.25">525</text>
<text x="663.33" y="510.80" font-size="15" text-anchor="middle" fill="#222" stroke="#222" stroke-width="0.25">560</text>
<text x="704.78" y="510.80" font-size="15" text-anchor="middle" fill="#222" stroke="#222" stroke-width="0.25">595</text>
<text x="570.75" y="540.30" font-size="17.2" text-anchor="middle" fill="#222" stroke="#222" stroke-width="0.2">Wavelength, nm</text>
<text transform="translate(389.00,353.13) rotate(-90)" font-size="17" text-anchor="middle" fill="#222" stroke="#222" stroke-width="0.2">Bioluminescence</text>
<g fill="none" stroke="#000" stroke-width="1.3"><circle cx="443.06" cy="487.01" r="3.1"/><circle cx="444.24" cy="486.13" r="3.1"/><circle cx="445.43" cy="489.32" r="3.1"/><circle cx="446.61" cy="482.55" r="3.1"/><circle cx="447.80" cy="488.12" r="3.1"/><circle cx="448.98" cy="486.08" r="3.1"/><circle cx="450.16" cy="483.25" r="3.1"/><circle cx="451.35" cy="485.98" r="3.1"/><circle cx="452.53" cy="485.18" r="3.1"/><circle cx="453.72" cy="484.40" r="3.1"/><circle cx="454.90" cy="481.03" r="3.1"/><circle cx="456.09" cy="476.95" r="3.1"/><circle cx="457.27" cy="480.76" r="3.1"/><circle cx="458.45" cy="482.44" r="3.1"/><circle cx="459.64" cy="478.27" r="3.1"/><circle cx="460.82" cy="479.88" r="3.1"/><circle cx="462.01" cy="477.81" r="3.1"/><circle cx="463.19" cy="474.26" r="3.1"/><circle cx="464.37" cy="477.60" r="3.1"/><circle cx="465.56" cy="474.87" r="3.1"/><circle cx="466.74" cy="475.87" r="3.1"/><circle cx="467.93" cy="473.03" r="3.1"/><circle cx="469.11" cy="470.79" r="3.1"/><circle cx="470.30" cy="472.60" r="3.1"/><circle cx="471.48" cy="469.61" r="3.1"/><circle cx="472.66" cy="467.90" r="3.1"/><circle cx="473.85" cy="467.43" r="3.1"/><circle cx="475.03" cy="467.33" r="3.1"/><circle cx="476.22" cy="466.30" r="3.1"/><circle cx="477.40" cy="460.95" r="3.1"/><circle cx="478.59" cy="459.35" r="3.1"/><circle cx="479.77" cy="449.90" r="3.1"/><circle cx="480.95" cy="461.71" r="3.1"/><circle cx="482.14" cy="451.69" r="3.1"/><circle cx="483.32" cy="448.45" r="3.1"/><circle cx="484.51" cy="442.69" r="3.1"/><circle cx="485.69" cy="442.74" r="3.1"/><circle cx="486.88" cy="444.41" r="3.1"/><circle cx="488.06" cy="438.60" r="3.1"/><circle cx="489.24" cy="433.58" r="3.1"/><circle cx="490.43" cy="433.35" r="3.1"/><circle cx="491.61" cy="425.98" r="3.1"/><circle cx="492.80" cy="432.22" r="3.1"/><circle cx="493.98" cy="414.91" r="3.1"/><circle cx="495.17" cy="411.92" r="3.1"/><circle cx="496.35" cy="414.94" r="3.1"/><circle cx="497.53" cy="406.95" r="3.1"/><circle cx="498.72" cy="404.91" r="3.1"/><circle cx="499.90" cy="404.15" r="3.1"/><circle cx="501.09" cy="395.69" r="3.1"/><circle cx="502.27" cy="386.97" r="3.1"/><circle cx="503.46" cy="388.24" r="3.1"/><circle cx="504.64" cy="383.33" r="3.1"/><circle cx="505.82" cy="376.96" r="3.1"/><circle cx="507.01" cy="369.49" r="3.1"/><circle cx="508.19" cy="360.28" r="3.1"/><circle cx="509.38" cy="364.32" r="3.1"/><circle cx="510.56" cy="353.52" r="3.1"/><circle cx="511.75" cy="349.75" r="3.1"/><circle cx="512.93" cy="355.13" r="3.1"/><circle cx="514.11" cy="342.66" r="3.1"/><circle cx="515.30" cy="336.07" r="3.1"/><circle cx="516.48" cy="330.54" r="3.1"/><circle cx="517.67" cy="323.61" r="3.1"/><circle cx="518.85" cy="331.60" r="3.1"/><circle cx="520.03" cy="315.47" r="3.1"/><circle cx="521.22" cy="314.85" r="3.1"/><circle cx="522.40" cy="314.66" r="3.1"/><circle cx="523.59" cy="299.21" r="3.1"/><circle cx="524.77" cy="293.75" r="3.1"/><circle cx="525.96" cy="297.68" r="3.1"/><circle cx="527.14" cy="285.09" r="3.1"/><circle cx="528.32" cy="288.51" r="3.1"/><circle cx="529.51" cy="282.29" r="3.1"/><circle cx="530.69" cy="285.82" r="3.1"/><circle cx="531.88" cy="266.51" r="3.1"/><circle cx="533.06" cy="288.96" r="3.1"/><circle cx="534.25" cy="270.52" r="3.1"/><circle cx="535.43" cy="262.93" r="3.1"/><circle cx="536.61" cy="276.97" r="3.1"/><circle cx="537.80" cy="263.16" r="3.1"/><circle cx="538.98" cy="260.09" r="3.1"/><circle cx="540.17" cy="252.25" r="3.1"/><circle cx="541.35" cy="247.48" r="3.1"/><circle cx="542.54" cy="255.81" r="3.1"/><circle cx="543.72" cy="260.12" r="3.1"/><circle cx="544.90" cy="241.10" r="3.1"/><circle cx="546.09" cy="240.42" r="3.1"/><circle cx="547.27" cy="249.57" r="3.1"/><circle cx="548.46" cy="243.09" r="3.1"/><circle cx="549.64" cy="241.70" r="3.1"/><circle cx="550.83" cy="239.46" r="3.1"/><circle cx="552.01" cy="240.86" r="3.1"/><circle cx="553.19" cy="232.41" r="3.1"/><circle cx="554.38" cy="251.89" r="3.1"/><circle cx="555.56" cy="233.65" r="3.1"/><circle cx="556.75" cy="237.57" r="3.1"/><circle cx="557.93" cy="241.25" r="3.1"/><circle cx="559.12" cy="232.36" r="3.1"/><circle cx="560.30" cy="255.06" r="3.1"/><circle cx="561.48" cy="232.97" r="3.1"/><circle cx="562.67" cy="238.45" r="3.1"/><circle cx="563.85" cy="248.83" r="3.1"/><circle cx="565.04" cy="239.68" r="3.1"/><circle cx="566.22" cy="245.39" r="3.1"/><circle cx="567.41" cy="228.21" r="3.1"/><circle cx="568.59" cy="234.34" r="3.1"/><circle cx="569.77" cy="244.68" r="3.1"/><circle cx="570.96" cy="253.65" r="3.1"/><circle cx="572.14" cy="254.58" r="3.1"/><circle cx="573.33" cy="254.90" r="3.1"/><circle cx="574.51" cy="258.44" r="3.1"/><circle cx="575.69" cy="262.77" r="3.1"/><circle cx="576.88" cy="263.17" r="3.1"/><circle cx="578.06" cy="263.68" r="3.1"/><circle cx="579.25" cy="267.73" r="3.1"/><circle cx="580.43" cy="271.50" r="3.1"/><circle cx="581.62" cy="275.66" r="3.1"/><circle cx="582.80" cy="257.52" r="3.1"/><circle cx="583.98" cy="284.70" r="3.1"/><circle cx="585.17" cy="284.99" r="3.1"/><circle cx="586.35" cy="279.44" r="3.1"/><circle cx="587.54" cy="287.07" r="3.1"/><circle cx="588.72" cy="285.90" r="3.1"/><circle cx="589.91" cy="287.00" r="3.1"/><circle cx="591.09" cy="287.66" r="3.1"/><circle cx="592.27" cy="293.96" r="3.1"/><circle cx="593.46" cy="307.28" r="3.1"/><circle cx="594.64" cy="298.74" r="3.1"/><circle cx="595.83" cy="318.27" r="3.1"/><circle cx="597.01" cy="312.40" r="3.1"/><circle cx="598.20" cy="317.90" r="3.1"/><circle cx="599.38" cy="324.33" r="3.1"/><circle cx="600.56" cy="318.69" r="3.1"/><circle cx="601.75" cy="326.23" r="3.1"/><circle cx="602.93" cy="323.13" r="3.1"/><circle cx="604.12" cy="339.72" r="3.1"/><circle cx="605.30" cy="330.71" r="3.1"/><circle cx="606.49" cy="335.81" r="3.1"/><circle cx="607.67" cy="340.96" r="3.1"/><circle cx="608.85" cy="352.05" r="3.1"/><circle cx="610.04" cy="349.21" r="3.1"/><circle cx="611.22" cy="358.80" r="3.1"/><circle cx="612.41" cy="364.46" r="3.1"/><circle cx="613.59" cy="340.93" r="3.1"/><circle cx="614.78" cy="355.33" r="3.1"/><circle cx="615.96" cy="354.31" r="3.1"/><circle cx="617.14" cy="367.93" r="3.1"/><circle cx="618.33" cy="365.38" r="3.1"/><circle cx="619.51" cy="368.17" r="3.1"/><circle cx="620.70" cy="371.37" r="3.1"/><circle cx="621.88" cy="376.83" r="3.1"/><circle cx="623.07" cy="380.51" r="3.1"/><circle cx="624.25" cy="391.43" r="3.1"/><circle cx="625.43" cy="381.80" r="3.1"/><circle cx="626.62" cy="385.12" r="3.1"/><circle cx="627.80" cy="384.49" r="3.1"/><circle cx="628.99" cy="392.99" r="3.1"/><circle cx="630.17" cy="386.55" r="3.1"/><circle cx="631.35" cy="398.30" r="3.1"/><circle cx="632.54" cy="403.94" r="3.1"/><circle cx="633.72" cy="396.82" r="3.1"/><circle cx="634.91" cy="404.86" r="3.1"/><circle cx="636.09" cy="410.19" r="3.1"/><circle cx="637.28" cy="406.52" r="3.1"/><circle cx="638.46" cy="405.96" r="3.1"/><circle cx="639.64" cy="410.03" r="3.1"/><circle cx="640.83" cy="410.94" r="3.1"/><circle cx="642.01" cy="398.56" r="3.1"/><circle cx="643.20" cy="413.43" r="3.1"/><circle cx="644.38" cy="412.52" r="3.1"/><circle cx="645.57" cy="427.87" r="3.1"/><circle cx="646.75" cy="420.58" r="3.1"/><circle cx="647.93" cy="420.76" r="3.1"/><circle cx="649.12" cy="426.72" r="3.1"/><circle cx="650.30" cy="430.24" r="3.1"/><circle cx="651.49" cy="427.16" r="3.1"/><circle cx="652.67" cy="431.33" r="3.1"/><circle cx="653.86" cy="433.88" r="3.1"/><circle cx="655.04" cy="429.17" r="3.1"/><circle cx="656.22" cy="430.05" r="3.1"/><circle cx="657.41" cy="435.18" r="3.1"/><circle cx="658.59" cy="439.25" r="3.1"/><circle cx="659.78" cy="437.33" r="3.1"/><circle cx="660.96" cy="437.68" r="3.1"/><circle cx="662.15" cy="439.74" r="3.1"/><circle cx="663.33" cy="448.03" r="3.1"/><circle cx="664.51" cy="445.63" r="3.1"/><circle cx="665.70" cy="444.64" r="3.1"/><circle cx="666.88" cy="445.08" r="3.1"/><circle cx="668.07" cy="445.26" r="3.1"/><circle cx="669.25" cy="447.16" r="3.1"/><circle cx="670.44" cy="454.30" r="3.1"/><circle cx="671.62" cy="454.12" r="3.1"/><circle cx="672.80" cy="456.83" r="3.1"/><circle cx="673.99" cy="448.76" r="3.1"/><circle cx="675.17" cy="454.80" r="3.1"/><circle cx="676.36" cy="454.79" r="3.1"/><circle cx="677.54" cy="454.47" r="3.1"/><circle cx="678.73" cy="459.50" r="3.1"/><circle cx="679.91" cy="462.87" r="3.1"/><circle cx="681.09" cy="461.78" r="3.1"/><circle cx="682.28" cy="461.97" r="3.1"/><circle cx="683.46" cy="458.34" r="3.1"/><circle cx="684.65" cy="461.06" r="3.1"/><circle cx="685.83" cy="467.32" r="3.1"/><circle cx="687.01" cy="463.48" r="3.1"/><circle cx="688.20" cy="464.19" r="3.1"/><circle cx="689.38" cy="469.78" r="3.1"/><circle cx="690.57" cy="468.11" r="3.1"/><circle cx="691.75" cy="473.38" r="3.1"/><circle cx="692.94" cy="468.59" r="3.1"/><circle cx="694.12" cy="470.99" r="3.1"/><circle cx="695.30" cy="474.29" r="3.1"/><circle cx="696.49" cy="473.39" r="3.1"/><circle cx="697.67" cy="471.81" r="3.1"/><circle cx="698.86" cy="474.40" r="3.1"/><circle cx="700.04" cy="473.05" r="3.1"/><circle cx="701.23" cy="473.12" r="3.1"/><circle cx="702.41" cy="476.98" r="3.1"/><circle cx="703.59" cy="476.36" r="3.1"/><circle cx="704.78" cy="471.42" r="3.1"/><circle cx="705.96" cy="476.55" r="3.1"/><circle cx="707.15" cy="479.24" r="3.1"/><circle cx="708.33" cy="477.79" r="3.1"/><circle cx="709.52" cy="481.32" r="3.1"/><circle cx="710.70" cy="476.55" r="3.1"/></g>
<polyline points="443.06,486.33 444.24,486.03 445.43,485.71 446.61,485.36 447.80,484.99 448.98,484.59 450.16,484.16 451.35,483.69 452.53,483.20 453.72,482.67 454.90,482.10 456.09,481.49 457.27,480.84 458.45,480.14 459.64,479.40 460.82,478.61 462.01,477.76 463.19,476.87 464.37,475.91 465.56,474.89 466.74,473.80 467.93,472.65 469.11,471.42 470.30,470.12 471.48,468.75 472.66,467.28 473.85,465.73 475.03,464.09 476.22,462.35 477.40,460.51 478.59,458.57 479.77,456.51 480.95,454.34 482.14,452.04 483.32,449.62 484.51,447.08 485.69,444.39 486.88,441.57 488.06,438.60 489.24,435.49 490.43,432.22 491.61,428.81 492.80,425.24 493.98,421.51 495.17,417.64 496.35,413.61 497.53,409.43 498.72,405.11 499.90,400.66 501.09,396.07 502.27,391.36 503.46,386.54 504.64,381.62 505.82,376.61 507.01,371.54 508.19,366.40 509.38,361.23 510.56,356.04 511.75,350.84 512.93,345.65 514.11,340.49 515.30,335.38 516.48,330.33 517.67,325.36 518.85,320.49 520.03,315.72 521.22,311.08 522.40,306.56 523.59,302.19 524.77,297.97 525.96,293.91 527.14,290.00 528.32,286.26 529.51,282.69 530.69,279.27 531.88,276.01 533.06,272.91 534.25,269.96 535.43,267.16 536.61,264.51 537.80,261.99 538.98,259.62 540.17,257.37 541.35,255.26 542.54,253.28 543.72,251.43 544.90,249.70 546.09,248.11 547.27,246.65 548.46,245.32 549.64,244.13 550.83,243.07 552.01,242.16 553.19,241.39 554.38,240.78 555.56,240.31 556.75,240.01 557.93,239.86 559.12,239.88 560.30,240.06 561.48,240.40 562.67,240.92 563.85,241.60 565.04,242.44 566.22,243.46 567.41,244.63 568.59,245.97 569.77,247.47 570.96,249.12 572.14,250.92 573.33,252.86 574.51,254.95 575.69,257.17 576.88,259.51 578.06,261.98 579.25,264.56 580.43,267.24 581.62,270.03 582.80,272.90 583.98,275.86 585.17,278.90 586.35,282.00 587.54,285.16 588.72,288.38 589.91,291.64 591.09,294.94 592.27,298.27 593.46,301.63 594.64,305.00 595.83,308.38 597.01,311.77 598.20,315.15 599.38,318.53 600.56,321.90 601.75,325.25 602.93,328.57 604.12,331.87 605.30,335.15 606.49,338.40 607.67,341.61 608.85,344.79 610.04,347.93 611.22,351.04 612.41,354.09 613.59,357.11 614.78,360.08 615.96,363.00 617.14,365.87 618.33,368.69 619.51,371.46 620.70,374.18 621.88,376.85 623.07,379.46 624.25,382.03 625.43,384.55 626.62,387.01 627.80,389.43 628.99,391.79 630.17,394.11 631.35,396.38 632.54,398.60 633.72,400.77 634.91,402.91 636.09,404.99 637.28,407.04 638.46,409.04 639.64,411.00 640.83,412.92 642.01,414.80 643.20,416.65 644.38,418.46 645.57,420.23 646.75,421.97 647.93,423.68 649.12,425.35 650.30,427.00 651.49,428.61 652.67,430.19 653.86,431.74 655.04,433.27 656.22,434.77 657.41,436.24 658.59,437.68 659.78,439.10 660.96,440.49 662.15,441.86 663.33,443.20 664.51,444.52 665.70,445.81 666.88,447.08 668.07,448.33 669.25,449.55 670.44,450.76 671.62,451.93 672.80,453.09 673.99,454.23 675.17,455.34 676.36,456.43 677.54,457.50 678.73,458.54 679.91,459.57 681.09,460.57 682.28,461.55 683.46,462.51 684.65,463.45 685.83,464.37 687.01,465.26 688.20,466.14 689.38,466.99 690.57,467.82 691.75,468.64 692.94,469.43 694.12,470.20 695.30,470.95 696.49,471.68 697.67,472.39 698.86,473.08 700.04,473.75 701.23,474.41 702.41,475.04 703.59,475.65 704.78,476.25 705.96,476.82 707.15,477.38 708.33,477.92 709.52,478.45 710.70,478.95" fill="none" stroke="#000" stroke-width="1.5" stroke-linejoin="round"/>
<polyline points="443.06,490.00 444.24,490.00 445.43,490.00 446.61,490.00 447.80,490.00 448.98,490.00 450.16,490.00 451.35,490.00 452.53,490.00 453.72,490.00 454.90,489.99 456.09,489.99 457.27,489.99 458.45,489.99 459.64,489.98 460.82,489.98 462.01,489.97 463.19,489.96 464.37,489.95 465.56,489.93 466.74,489.92 467.93,489.89 469.11,489.87 470.30,489.83 471.48,489.79 472.66,489.74 473.85,489.68 475.03,489.60 476.22,489.51 477.40,489.41 478.59,489.28 479.77,489.13 480.95,488.96 482.14,488.76 483.32,488.53 484.51,488.27 485.69,487.96 486.88,487.62 488.06,487.24 489.24,486.81 490.43,486.33 491.61,485.80 492.80,485.22 493.98,484.59 495.17,483.90 496.35,483.17 497.53,482.38 498.72,481.55 499.90,480.68 501.09,479.77 502.27,478.83 503.46,477.86 504.64,476.88 505.82,475.90 507.01,474.91 508.19,473.95 509.38,473.01 510.56,472.11 511.75,471.25 512.93,470.46 514.11,469.74 515.30,469.10 516.48,468.55 517.67,468.10 518.85,467.76 520.03,467.53 521.22,467.41 522.40,467.41 523.59,467.54 524.77,467.78 525.96,468.14 527.14,468.62 528.32,469.20 529.51,469.87 530.69,470.63 531.88,471.46 533.06,472.35 534.25,473.30 535.43,474.28 536.61,475.28 537.80,476.29 538.98,477.30 540.17,478.31 541.35,479.29 542.54,480.24 543.72,481.16 544.90,482.04 546.09,482.86 547.27,483.64 548.46,484.36 549.64,485.03 550.83,485.65 552.01,486.20 553.19,486.71 554.38,487.16 555.56,487.57 556.75,487.92 557.93,488.24 559.12,488.51 560.30,488.75 561.48,488.96 562.67,489.14 563.85,489.29 565.04,489.42 566.22,489.52 567.41,489.61 568.59,489.69 569.77,489.75 570.96,489.80 572.14,489.84 573.33,489.87 574.51,489.90 575.69,489.92 576.88,489.94 578.06,489.95 579.25,489.96 580.43,489.97 581.62,489.98 582.80,489.98 583.98,489.99 585.17,489.99 586.35,489.99 587.54,490.00 588.72,490.00 589.91,490.00 591.09,490.00 592.27,490.00 593.46,490.00 594.64,490.00 595.83,490.00 597.01,490.00 598.20,490.00 599.38,490.00 600.56,490.00 601.75,490.00 602.93,490.00 604.12,490.00 605.30,490.00 606.49,490.00 607.67,490.00 608.85,490.00 610.04,490.00 611.22,490.00 612.41,490.00 613.59,490.00 614.78,490.00 615.96,490.00 617.14,490.00 618.33,490.00 619.51,490.00 620.70,490.00 621.88,490.00 623.07,490.00 624.25,490.00 625.43,490.00 626.62,490.00 627.80,490.00 628.99,490.00 630.17,490.00 631.35,490.00 632.54,490.00 633.72,490.00 634.91,490.00 636.09,490.00 637.28,490.00 638.46,490.00 639.64,490.00 640.83,490.00 642.01,490.00 643.20,490.00 644.38,490.00 645.57,490.00 646.75,490.00 647.93,490.00 649.12,490.00 650.30,490.00 651.49,490.00 652.67,490.00 653.86,490.00 655.04,490.00 656.22,490.00 657.41,490.00 658.59,490.00 659.78,490.00 660.96,490.00 662.15,490.00 663.33,490.00 664.51,490.00 665.70,490.00 666.88,490.00 668.07,490.00 669.25,490.00 670.44,490.00 671.62,490.00 672.80,490.00 673.99,490.00 675.17,490.00 676.36,490.00 677.54,490.00 678.73,490.00 679.91,490.00 681.09,490.00 682.28,490.00 683.46,490.00 684.65,490.00 685.83,490.00 687.01,490.00 688.20,490.00 689.38,490.00 690.57,490.00 691.75,490.00 692.94,490.00 694.12,490.00 695.30,490.00 696.49,490.00 697.67,490.00 698.86,490.00 700.04,490.00 701.23,490.00 702.41,490.00 703.59,490.00 704.78,490.00 705.96,490.00 707.15,490.00 708.33,490.00 709.52,490.00 710.70,490.00" fill="none" stroke="#0000ff" stroke-width="1.9" stroke-linejoin="round"/>
<polyline points="443.06,488.05 444.24,487.85 445.43,487.64 446.61,487.40 447.80,487.14 448.98,486.87 450.16,486.56 451.35,486.24 452.53,485.89 453.72,485.50 454.90,485.09 456.09,484.65 457.27,484.17 458.45,483.66 459.64,483.10 460.82,482.51 462.01,481.88 463.19,481.20 464.37,480.47 465.56,479.70 466.74,478.87 467.93,477.99 469.11,477.05 470.30,476.05 471.48,475.00 472.66,473.88 473.85,472.69 475.03,471.44 476.22,470.11 477.40,468.72 478.59,467.25 479.77,465.70 480.95,464.08 482.14,462.37 483.32,460.59 484.51,458.72 485.69,456.76 486.88,454.73 488.06,452.60 489.24,450.39 490.43,448.09 491.61,445.71 492.80,443.23 493.98,440.67 495.17,438.03 496.35,435.30 497.53,432.49 498.72,429.59 499.90,426.62 501.09,423.56 502.27,420.44 503.46,417.24 504.64,413.97 505.82,410.64 507.01,407.25 508.19,403.81 509.38,400.31 510.56,396.77 511.75,393.19 512.93,389.58 514.11,385.94 515.30,382.28 516.48,378.61 517.67,374.94 518.85,371.26 520.03,367.60 521.22,363.96 522.40,360.34 523.59,356.75 524.77,353.21 525.96,349.73 527.14,346.30 528.32,342.94 529.51,339.66 530.69,336.47 531.88,333.37 533.06,330.37 534.25,327.49 535.43,324.73 536.61,322.09 537.80,319.59 538.98,317.24 540.17,315.03 541.35,312.98 542.54,311.09 543.72,309.37 544.90,307.82 546.09,306.45 547.27,305.26 548.46,304.26 549.64,303.45 550.83,302.82 552.01,302.40 553.19,302.16 554.38,302.12 555.56,302.28 556.75,302.63 557.93,303.18 559.12,303.91 560.30,304.84 561.48,305.95 562.67,307.25 563.85,308.73 565.04,310.38 566.22,312.20 567.41,314.19 568.59,316.34 569.77,318.63 570.96,321.08 572.14,323.66 573.33,326.37 574.51,329.21 575.69,332.16 576.88,335.22 578.06,338.37 579.25,341.62 580.43,344.95 581.62,348.35 582.80,351.81 583.98,355.33 585.17,358.90 586.35,362.51 587.54,366.14 588.72,369.80 589.91,373.47 591.09,377.14 592.27,380.82 593.46,384.48 594.64,388.13 595.83,391.75 597.01,395.34 598.20,398.90 599.38,402.41 600.56,405.88 601.75,409.29 602.93,412.65 604.12,415.94 605.30,419.17 606.49,422.32 607.67,425.40 608.85,428.41 610.04,431.34 611.22,434.18 612.41,436.95 613.59,439.63 614.78,442.22 615.96,444.73 617.14,447.15 618.33,449.48 619.51,451.73 620.70,453.89 621.88,455.96 623.07,457.95 624.25,459.85 625.43,461.67 626.62,463.40 627.80,465.06 628.99,466.64 630.17,468.14 631.35,469.56 632.54,470.92 633.72,472.20 634.91,473.41 636.09,474.56 637.28,475.64 638.46,476.66 639.64,477.62 640.83,478.52 642.01,479.37 643.20,480.17 644.38,480.91 645.57,481.61 646.75,482.26 647.93,482.87 649.12,483.44 650.30,483.97 651.49,484.46 652.67,484.92 653.86,485.34 655.04,485.74 656.22,486.10 657.41,486.44 658.59,486.75 659.78,487.04 660.96,487.30 662.15,487.54 663.33,487.77 664.51,487.97 665.70,488.16 666.88,488.33 668.07,488.49 669.25,488.64 670.44,488.77 671.62,488.89 672.80,489.00 673.99,489.10 675.17,489.19 676.36,489.27 677.54,489.35 678.73,489.41 679.91,489.47 681.09,489.53 682.28,489.58 683.46,489.62 684.65,489.67 685.83,489.70 687.01,489.73 688.20,489.76 689.38,489.79 690.57,489.81 691.75,489.83 692.94,489.85 694.12,489.87 695.30,489.89 696.49,489.90 697.67,489.91 698.86,489.92 700.04,489.93 701.23,489.94 702.41,489.95 703.59,489.95 704.78,489.96 705.96,489.96 707.15,489.97 708.33,489.97 709.52,489.98 710.70,489.98" fill="none" stroke="#008000" stroke-width="1.9" stroke-linejoin="round"/>
<polyline points="443.06,488.28 444.24,488.18 445.43,488.08 446.61,487.96 447.80,487.85 448.98,487.72 450.16,487.59 451.35,487.46 452.53,487.32 453.72,487.17 454.90,487.01 456.09,486.85 457.27,486.68 458.45,486.50 459.64,486.32 460.82,486.12 462.01,485.92 463.19,485.71 464.37,485.49 465.56,485.26 466.74,485.02 467.93,484.77 469.11,484.51 470.30,484.24 471.48,483.96 472.66,483.67 473.85,483.37 475.03,483.05 476.22,482.73 477.40,482.39 478.59,482.04 479.77,481.67 480.95,481.30 482.14,480.91 483.32,480.51 484.51,480.09 485.69,479.66 486.88,479.22 488.06,478.76 489.24,478.29 490.43,477.80 491.61,477.30 492.80,476.78 493.98,476.25 495.17,475.71 496.35,475.14 497.53,474.56 498.72,473.97 499.90,473.36 501.09,472.74 502.27,472.09 503.46,471.44 504.64,470.76 505.82,470.08 507.01,469.37 508.19,468.65 509.38,467.91 510.56,467.16 511.75,466.39 512.93,465.61 514.11,464.81 515.30,464.00 516.48,463.17 517.67,462.32 518.85,461.47 520.03,460.59 521.22,459.71 522.40,458.81 523.59,457.90 524.77,456.97 525.96,456.03 527.14,455.09 528.32,454.13 529.51,453.16 530.69,452.17 531.88,451.18 533.06,450.18 534.25,449.18 535.43,448.16 536.61,447.14 537.80,446.11 538.98,445.08 540.17,444.04 541.35,442.99 542.54,441.95 543.72,440.90 544.90,439.85 546.09,438.80 547.27,437.74 548.46,436.69 549.64,435.65 550.83,434.60 552.01,433.56 553.19,432.52 554.38,431.49 555.56,430.47 556.75,429.45 557.93,428.45 559.12,427.45 560.30,426.46 561.48,425.49 562.67,424.53 563.85,423.58 565.04,422.65 566.22,421.73 567.41,420.83 568.59,419.95 569.77,419.09 570.96,418.24 572.14,417.42 573.33,416.62 574.51,415.84 575.69,415.09 576.88,414.36 578.06,413.65 579.25,412.98 580.43,412.32 581.62,411.70 582.80,411.11 583.98,410.54 585.17,410.01 586.35,409.50 587.54,409.03 588.72,408.58 589.91,408.18 591.09,407.80 592.27,407.46 593.46,407.15 594.64,406.87 595.83,406.63 597.01,406.42 598.20,406.25 599.38,406.12 600.56,406.02 601.75,405.95 602.93,405.93 604.12,405.93 605.30,405.98 606.49,406.08 607.67,406.21 608.85,406.38 610.04,406.60 611.22,406.85 612.41,407.15 613.59,407.48 614.78,407.85 615.96,408.27 617.14,408.72 618.33,409.21 619.51,409.73 620.70,410.29 621.88,410.89 623.07,411.52 624.25,412.18 625.43,412.88 626.62,413.61 627.80,414.37 628.99,415.15 630.17,415.97 631.35,416.81 632.54,417.68 633.72,418.58 634.91,419.49 636.09,420.43 637.28,421.40 638.46,422.38 639.64,423.38 640.83,424.40 642.01,425.43 643.20,426.48 644.38,427.55 645.57,428.62 646.75,429.71 647.93,430.81 649.12,431.91 650.30,433.03 651.49,434.15 652.67,435.27 653.86,436.40 655.04,437.53 656.22,438.67 657.41,439.80 658.59,440.93 659.78,442.06 660.96,443.19 662.15,444.31 663.33,445.43 664.51,446.54 665.70,447.65 666.88,448.75 668.07,449.84 669.25,450.92 670.44,451.99 671.62,453.05 672.80,454.09 673.99,455.13 675.17,456.15 676.36,457.16 677.54,458.15 678.73,459.13 679.91,460.09 681.09,461.04 682.28,461.97 683.46,462.89 684.65,463.78 685.83,464.66 687.01,465.53 688.20,466.37 689.38,467.20 690.57,468.01 691.75,468.80 692.94,469.57 694.12,470.33 695.30,471.06 696.49,471.78 697.67,472.48 698.86,473.16 700.04,473.82 701.23,474.47 702.41,475.09 703.59,475.70 704.78,476.29 705.96,476.86 707.15,477.41 708.33,477.95 709.52,478.47 710.70,478.97" fill="none" stroke="#00ffff" stroke-width="1.9" stroke-linejoin="round"/>
<circle cx="628.75" cy="237.90" r="2.95" fill="none" stroke="#000" stroke-width="1.4"/>
<text x="645.55" y="241.20" font-size="9.5" font-weight="bold" fill="#111">spectrum</text>
<line x1="617.05" y1="252.30" x2="640.45" y2="252.30" stroke="#000" stroke-width="1.7"/>
<text x="645.55" y="255.70" font-size="9.5" font-weight="bold" fill="#111">fit</text>
<line x1="617.05" y1="266.70" x2="640.45" y2="266.70" stroke="#0000ff" stroke-width="1.7"/>
<text x="645.55" y="270.10" font-size="9.5" font-weight="bold" fill="#111">440 nm</text>
<line x1="617.05" y1="281.10" x2="640.45" y2="281.10" stroke="#008000" stroke-width="1.7"/>
<text x="645.55" y="284.50" font-size="9.5" font-weight="bold" fill="#111">468 nm</text>
<line x1="617.05" y1="295.50" x2="640.45" y2="295.50" stroke="#00ffff" stroke-width="1.7"/>
<text x="645.55" y="298.90" font-size="9.5" font-weight="bold" fill="#111">508 nm</text>
<rect x="73.00" y="574.26" width="278.30" height="273.34" fill="none" stroke="#000" stroke-width="1.7"/>
<path d="M73.00,847.60h5.0 M73.00,837.17h3.2 M73.00,826.74h3.2 M73.00,816.32h3.2 M73.00,805.89h3.2 M73.00,795.46h5.0 M73.00,785.03h3.2 M73.00,774.60h3.2 M73.00,764.18h3.2 M73.00,753.75h3.2 M73.00,743.32h5.0 M73.00,732.89h3.2 M73.00,722.46h3.2 M73.00,712.04h3.2 M73.00,701.61h3.2 M73.00,691.18h5.0 M73.00,680.75h3.2 M73.00,670.32h3.2 M73.00,659.90h3.2 M73.00,649.47h3.2 M73.00,639.04h5.0 M73.00,628.61h3.2 M73.00,618.18h3.2 M73.00,607.76h3.2 M73.00,597.33h3.2 M73.00,586.90h5.0 M73.00,576.47h3.2 M80.11,847.60v-3.2 M88.40,847.60v-3.2 M96.69,847.60v-5.0 M104.97,847.60v-3.2 M113.26,847.60v-3.2 M121.55,847.60v-3.2 M129.84,847.60v-3.2 M138.13,847.60v-5.0 M146.42,847.60v-3.2 M154.71,847.60v-3.2 M163.00,847.60v-3.2 M171.29,847.60v-3.2 M179.58,847.60v-5.0 M187.87,847.60v-3.2 M196.16,847.60v-3.2 M204.45,847.60v-3.2 M212.74,847.60v-3.2 M221.03,847.60v-5.0 M229.32,847.60v-3.2 M237.61,847.60v-3.2 M245.90,847.60v-3.2 M254.19,847.60v-3.2 M262.48,847.60v-5.0 M270.77,847.60v-3.2 M279.06,847.60v-3.2 M287.35,847.60v-3.2 M295.64,847.60v-3.2 M303.93,847.60v-5.0 M312.22,847.60v-3.2 M320.51,847.60v-3.2 M328.80,847.60v-3.2 M337.09,847.60v-3.2 M345.38,847.60v-5.0" stroke="#000" stroke-width="1.4" fill="none"/>
<text x="65.20" y="852.90" font-size="15" text-anchor="end" fill="#222" stroke="#222" stroke-width="0.25">0.0</text>
<text x="65.20" y="800.76" font-size="15" text-anchor="end" fill="#222" stroke="#222" stroke-width="0.25">0.2</text>
<text x="65.20" y="748.62" font-size="15" text-anchor="end" fill="#222" stroke="#222" stroke-width="0.25">0.4</text>
<text x="65.20" y="696.48" font-size="15" text-anchor="end" fill="#222" stroke="#222" stroke-width="0.25">0.6</text>
<text x="65.20" y="644.34" font-size="15" text-anchor="end" fill="#222" stroke="#222" stroke-width="0.25">0.8</text>
<text x="65.20" y="592.20" font-size="15" text-anchor="end" fill="#222" stroke="#222" stroke-width="0.25">1.0</text>
<text x="96.69" y="868.40" font-size="15" text-anchor="middle" fill="#222" stroke="#222" stroke-width="0.25">385</text>
<text x="138.13" y="868.40" font-size="15" text-anchor="middle" fill="#222" stroke="#222" stroke-width="0.25">420</text>
<text x="179.58" y="868.40" font-size="15" text-anchor="middle" fill="#222" stroke="#222" stroke-width="0.25">455</text>
<text x="221.03" y="868.40" font-size="15" text-anchor="middle" fill="#222" stroke="#222" stroke-width="0.25">490</text>
<text x="262.48" y="868.40" font-size="15" text-anchor="middle" fill="#222" stroke="#222" stroke-width="0.25">525</text>
<text x="303.93" y="868.40" font-size="15" text-anchor="middle" fill="#222" stroke="#222" stroke-width="0.25">560</text>
<text x="345.38" y="868.40" font-size="15" text-anchor="middle" fill="#222" stroke="#222" stroke-width="0.25">595</text>
<text x="212.15" y="897.40" font-size="17.2" text-anchor="middle" fill="#222" stroke="#222" stroke-width="0.2">Wavelength, nm</text>
<text transform="translate(30.50,710.73) rotate(-90)" font-size="17" text-anchor="middle" fill="#222" stroke="#222" stroke-width="0.2">Bioluminescence</text>
<g fill="none" stroke="#000" stroke-width="1.3"><circle cx="83.66" cy="763.65" r="3.1"/><circle cx="84.84" cy="747.75" r="3.1"/><circle cx="86.03" cy="735.24" r="3.1"/><circle cx="87.21" cy="741.76" r="3.1"/><circle cx="88.40" cy="733.54" r="3.1"/><circle cx="89.58" cy="717.25" r="3.1"/><circle cx="90.76" cy="719.86" r="3.1"/><circle cx="91.95" cy="709.95" r="3.1"/><circle cx="93.13" cy="697.96" r="3.1"/><circle cx="94.32" cy="693.79" r="3.1"/><circle cx="95.50" cy="692.74" r="3.1"/><circle cx="96.69" cy="685.44" r="3.1"/><circle cx="97.87" cy="675.54" r="3.1"/><circle cx="99.05" cy="674.23" r="3.1"/><circle cx="100.24" cy="662.76" r="3.1"/><circle cx="101.42" cy="659.90" r="3.1"/><circle cx="102.61" cy="672.03" r="3.1"/><circle cx="103.79" cy="673.91" r="3.1"/><circle cx="104.97" cy="655.46" r="3.1"/><circle cx="106.16" cy="664.51" r="3.1"/><circle cx="107.34" cy="662.20" r="3.1"/><circle cx="108.53" cy="653.91" r="3.1"/><circle cx="109.71" cy="641.68" r="3.1"/><circle cx="110.90" cy="647.58" r="3.1"/><circle cx="112.08" cy="654.00" r="3.1"/><circle cx="113.26" cy="651.32" r="3.1"/><circle cx="114.45" cy="642.77" r="3.1"/><circle cx="115.63" cy="647.51" r="3.1"/><circle cx="116.82" cy="651.51" r="3.1"/><circle cx="118.00" cy="648.88" r="3.1"/><circle cx="119.19" cy="643.91" r="3.1"/><circle cx="120.37" cy="637.69" r="3.1"/><circle cx="121.55" cy="658.54" r="3.1"/><circle cx="122.74" cy="656.42" r="3.1"/><circle cx="123.92" cy="659.22" r="3.1"/><circle cx="125.11" cy="670.67" r="3.1"/><circle cx="126.29" cy="663.66" r="3.1"/><circle cx="127.48" cy="666.14" r="3.1"/><circle cx="128.66" cy="655.38" r="3.1"/><circle cx="129.84" cy="664.56" r="3.1"/><circle cx="131.03" cy="674.94" r="3.1"/><circle cx="132.21" cy="663.24" r="3.1"/><circle cx="133.40" cy="670.40" r="3.1"/><circle cx="134.58" cy="679.53" r="3.1"/><circle cx="135.77" cy="673.76" r="3.1"/><circle cx="136.95" cy="674.31" r="3.1"/><circle cx="138.13" cy="676.26" r="3.1"/><circle cx="139.32" cy="671.09" r="3.1"/><circle cx="140.50" cy="683.94" r="3.1"/><circle cx="141.69" cy="671.98" r="3.1"/><circle cx="142.87" cy="663.74" r="3.1"/><circle cx="144.06" cy="663.54" r="3.1"/><circle cx="145.24" cy="660.69" r="3.1"/><circle cx="146.42" cy="659.01" r="3.1"/><circle cx="147.61" cy="655.04" r="3.1"/><circle cx="148.79" cy="668.35" r="3.1"/><circle cx="149.98" cy="654.66" r="3.1"/><circle cx="151.16" cy="668.47" r="3.1"/><circle cx="152.35" cy="658.69" r="3.1"/><circle cx="153.53" cy="664.19" r="3.1"/><circle cx="154.71" cy="643.95" r="3.1"/><circle cx="155.90" cy="639.74" r="3.1"/><circle cx="157.08" cy="646.61" r="3.1"/><circle cx="158.27" cy="632.19" r="3.1"/><circle cx="159.45" cy="644.92" r="3.1"/><circle cx="160.63" cy="637.65" r="3.1"/><circle cx="161.82" cy="635.52" r="3.1"/><circle cx="163.00" cy="641.05" r="3.1"/><circle cx="164.19" cy="629.72" r="3.1"/><circle cx="165.37" cy="618.38" r="3.1"/><circle cx="166.56" cy="635.14" r="3.1"/><circle cx="167.74" cy="621.17" r="3.1"/><circle cx="168.92" cy="626.03" r="3.1"/><circle cx="170.11" cy="612.00" r="3.1"/><circle cx="171.29" cy="618.38" r="3.1"/><circle cx="172.48" cy="615.35" r="3.1"/><circle cx="173.66" cy="613.75" r="3.1"/><circle cx="174.85" cy="614.48" r="3.1"/><circle cx="176.03" cy="623.31" r="3.1"/><circle cx="177.21" cy="603.46" r="3.1"/><circle cx="178.40" cy="619.64" r="3.1"/><circle cx="179.58" cy="607.41" r="3.1"/><circle cx="180.77" cy="603.24" r="3.1"/><circle cx="181.95" cy="611.13" r="3.1"/><circle cx="183.14" cy="603.11" r="3.1"/><circle cx="184.32" cy="594.90" r="3.1"/><circle cx="185.50" cy="601.42" r="3.1"/><circle cx="186.69" cy="605.95" r="3.1"/><circle cx="187.87" cy="618.37" r="3.1"/><circle cx="189.06" cy="604.59" r="3.1"/><circle cx="190.24" cy="601.33" r="3.1"/><circle cx="191.43" cy="600.25" r="3.1"/><circle cx="192.61" cy="602.79" r="3.1"/><circle cx="193.79" cy="593.62" r="3.1"/><circle cx="194.98" cy="599.91" r="3.1"/><circle cx="196.16" cy="596.92" r="3.1"/><circle cx="197.35" cy="591.98" r="3.1"/><circle cx="198.53" cy="602.72" r="3.1"/><circle cx="199.72" cy="599.72" r="3.1"/><circle cx="200.90" cy="584.27" r="3.1"/><circle cx="202.08" cy="593.91" r="3.1"/><circle cx="203.27" cy="609.56" r="3.1"/><circle cx="204.45" cy="602.99" r="3.1"/><circle cx="205.64" cy="600.40" r="3.1"/><circle cx="206.82" cy="597.85" r="3.1"/><circle cx="208.01" cy="606.97" r="3.1"/><circle cx="209.19" cy="613.56" r="3.1"/><circle cx="210.37" cy="617.16" r="3.1"/><circle cx="211.56" cy="610.71" r="3.1"/><circle cx="212.74" cy="615.45" r="3.1"/><circle cx="213.93" cy="623.49" r="3.1"/><circle cx="215.11" cy="624.23" r="3.1"/><circle cx="216.29" cy="628.60" r="3.1"/><circle cx="217.48" cy="624.45" r="3.1"/><circle cx="218.66" cy="636.46" r="3.1"/><circle cx="219.85" cy="632.33" r="3.1"/><circle cx="221.03" cy="633.38" r="3.1"/><circle cx="222.22" cy="639.00" r="3.1"/><circle cx="223.40" cy="650.46" r="3.1"/><circle cx="224.58" cy="640.68" r="3.1"/><circle cx="225.77" cy="656.36" r="3.1"/><circle cx="226.95" cy="653.25" r="3.1"/><circle cx="228.14" cy="663.77" r="3.1"/><circle cx="229.32" cy="673.08" r="3.1"/><circle cx="230.51" cy="665.07" r="3.1"/><circle cx="231.69" cy="668.24" r="3.1"/><circle cx="232.87" cy="673.84" r="3.1"/><circle cx="234.06" cy="675.30" r="3.1"/><circle cx="235.24" cy="683.96" r="3.1"/><circle cx="236.43" cy="687.84" r="3.1"/><circle cx="237.61" cy="688.01" r="3.1"/><circle cx="238.80" cy="679.92" r="3.1"/><circle cx="239.98" cy="689.25" r="3.1"/><circle cx="241.16" cy="699.72" r="3.1"/><circle cx="242.35" cy="697.09" r="3.1"/><circle cx="243.53" cy="705.74" r="3.1"/><circle cx="244.72" cy="708.67" r="3.1"/><circle cx="245.90" cy="704.79" r="3.1"/><circle cx="247.09" cy="714.94" r="3.1"/><circle cx="248.27" cy="723.70" r="3.1"/><circle cx="249.45" cy="722.55" r="3.1"/><circle cx="250.64" cy="720.27" r="3.1"/><circle cx="251.82" cy="722.79" r="3.1"/><circle cx="253.01" cy="719.94" r="3.1"/><circle cx="254.19" cy="732.19" r="3.1"/><circle cx="255.38" cy="727.66" r="3.1"/><circle cx="256.56" cy="731.65" r="3.1"/><circle cx="257.74" cy="736.85" r="3.1"/><circle cx="258.93" cy="734.55" r="3.1"/><circle cx="260.11" cy="738.52" r="3.1"/><circle cx="261.30" cy="747.13" r="3.1"/><circle cx="262.48" cy="740.38" r="3.1"/><circle cx="263.67" cy="753.11" r="3.1"/><circle cx="264.85" cy="749.37" r="3.1"/><circle cx="266.03" cy="751.72" r="3.1"/><circle cx="267.22" cy="751.88" r="3.1"/><circle cx="268.40" cy="759.01" r="3.1"/><circle cx="269.59" cy="757.91" r="3.1"/><circle cx="270.77" cy="760.30" r="3.1"/><circle cx="271.95" cy="757.27" r="3.1"/><circle cx="273.14" cy="766.86" r="3.1"/><circle cx="274.32" cy="764.96" r="3.1"/><circle cx="275.51" cy="768.17" r="3.1"/><circle cx="276.69" cy="774.27" r="3.1"/><circle cx="277.88" cy="759.47" r="3.1"/><circle cx="279.06" cy="772.58" r="3.1"/><circle cx="280.24" cy="780.03" r="3.1"/><circle cx="281.43" cy="769.93" r="3.1"/><circle cx="282.61" cy="781.55" r="3.1"/><circle cx="283.80" cy="777.40" r="3.1"/><circle cx="284.98" cy="777.06" r="3.1"/><circle cx="286.17" cy="784.55" r="3.1"/><circle cx="287.35" cy="785.23" r="3.1"/><circle cx="288.53" cy="787.16" r="3.1"/><circle cx="289.72" cy="787.08" r="3.1"/><circle cx="290.90" cy="794.18" r="3.1"/><circle cx="292.09" cy="794.14" r="3.1"/><circle cx="293.27" cy="791.49" r="3.1"/><circle cx="294.46" cy="788.57" r="3.1"/><circle cx="295.64" cy="791.49" r="3.1"/><circle cx="296.82" cy="788.94" r="3.1"/><circle cx="298.01" cy="794.05" r="3.1"/><circle cx="299.19" cy="799.68" r="3.1"/><circle cx="300.38" cy="799.63" r="3.1"/><circle cx="301.56" cy="807.54" r="3.1"/><circle cx="302.75" cy="805.08" r="3.1"/><circle cx="303.93" cy="806.52" r="3.1"/><circle cx="305.11" cy="803.39" r="3.1"/><circle cx="306.30" cy="803.37" r="3.1"/><circle cx="307.48" cy="808.58" r="3.1"/><circle cx="308.67" cy="809.84" r="3.1"/><circle cx="309.85" cy="814.09" r="3.1"/><circle cx="311.04" cy="810.64" r="3.1"/><circle cx="312.22" cy="810.58" r="3.1"/><circle cx="313.40" cy="811.07" r="3.1"/><circle cx="314.59" cy="815.98" r="3.1"/><circle cx="315.77" cy="808.53" r="3.1"/><circle cx="316.96" cy="812.04" r="3.1"/><circle cx="318.14" cy="816.98" r="3.1"/><circle cx="319.33" cy="819.26" r="3.1"/><circle cx="320.51" cy="819.63" r="3.1"/><circle cx="321.69" cy="819.21" r="3.1"/><circle cx="322.88" cy="820.64" r="3.1"/><circle cx="324.06" cy="820.13" r="3.1"/><circle cx="325.25" cy="820.25" r="3.1"/><circle cx="326.43" cy="819.49" r="3.1"/><circle cx="327.61" cy="820.99" r="3.1"/><circle cx="328.80" cy="825.28" r="3.1"/><circle cx="329.98" cy="824.76" r="3.1"/><circle cx="331.17" cy="827.62" r="3.1"/><circle cx="332.35" cy="828.91" r="3.1"/><circle cx="333.54" cy="823.17" r="3.1"/><circle cx="334.72" cy="830.04" r="3.1"/><circle cx="335.90" cy="824.54" r="3.1"/><circle cx="337.09" cy="831.14" r="3.1"/><circle cx="338.27" cy="830.32" r="3.1"/><circle cx="339.46" cy="828.94" r="3.1"/><circle cx="340.64" cy="832.18" r="3.1"/><circle cx="341.83" cy="831.92" r="3.1"/><circle cx="343.01" cy="834.03" r="3.1"/><circle cx="344.19" cy="835.14" r="3.1"/><circle cx="345.38" cy="834.98" r="3.1"/><circle cx="346.56" cy="836.62" r="3.1"/><circle cx="347.75" cy="832.00" r="3.1"/><circle cx="348.93" cy="836.55" r="3.1"/><circle cx="350.12" cy="832.89" r="3.1"/><circle cx="351.30" cy="842.97" r="3.1"/></g>
<polyline points="83.66,758.88 84.84,753.08 86.03,747.16 87.21,741.16 88.40,735.09 89.58,728.99 90.76,722.89 91.95,716.81 93.13,710.80 94.32,704.88 95.50,699.09 96.69,693.46 97.87,688.02 99.05,682.82 100.24,677.87 101.42,673.22 102.61,668.88 103.79,664.88 104.97,661.24 106.16,657.98 107.34,655.12 108.53,652.67 109.71,650.63 110.90,649.01 112.08,647.80 113.26,646.99 114.45,646.57 115.63,646.53 116.82,646.84 118.00,647.48 119.19,648.42 120.37,649.62 121.55,651.05 122.74,652.66 123.92,654.42 125.11,656.27 126.29,658.18 127.48,660.10 128.66,661.98 129.84,663.79 131.03,665.47 132.21,667.00 133.40,668.34 134.58,669.45 135.77,670.32 136.95,670.92 138.13,671.23 139.32,671.26 140.50,670.99 141.69,670.43 142.87,669.59 144.06,668.48 145.24,667.12 146.42,665.54 147.61,663.75 148.79,661.78 149.98,659.66 151.16,657.42 152.35,655.10 153.53,652.70 154.71,650.27 155.90,647.83 157.08,645.40 158.27,643.05 159.45,640.77 160.63,638.58 161.82,636.46 163.00,634.43 164.19,632.46 165.37,630.55 166.56,628.68 167.74,626.86 168.92,625.05 170.11,623.26 171.29,621.47 172.48,619.68 173.66,617.88 174.85,616.08 176.03,614.28 177.21,612.49 178.40,610.71 179.58,608.97 180.77,607.27 181.95,605.63 183.14,604.07 184.32,602.61 185.50,601.26 186.69,600.06 187.87,599.01 189.06,598.12 190.24,597.39 191.43,596.81 192.61,596.39 193.79,596.14 194.98,596.07 196.16,596.19 197.35,596.51 198.53,597.01 199.72,597.72 200.90,598.62 202.08,599.71 203.27,601.00 204.45,602.47 205.64,604.12 206.82,605.95 208.01,607.95 209.19,610.10 210.37,612.42 211.56,614.87 212.74,617.47 213.93,620.19 215.11,623.02 216.29,625.97 217.48,629.01 218.66,632.14 219.85,635.36 221.03,638.64 222.22,641.98 223.40,645.38 224.58,648.82 225.77,652.29 226.95,655.79 228.14,659.31 229.32,662.85 230.51,666.38 231.69,669.90 232.87,673.40 234.06,676.87 235.24,680.31 236.43,683.72 237.61,687.08 238.80,690.41 239.98,693.68 241.16,696.91 242.35,700.08 243.53,703.20 244.72,706.27 245.90,709.27 247.09,712.22 248.27,715.11 249.45,717.94 250.64,720.72 251.82,723.43 253.01,726.08 254.19,728.68 255.38,731.22 256.56,733.70 257.74,736.13 258.93,738.51 260.11,740.83 261.30,743.11 262.48,745.33 263.67,747.51 264.85,749.65 266.03,751.73 267.22,753.78 268.40,755.79 269.59,757.76 270.77,759.69 271.95,761.58 273.14,763.44 274.32,765.27 275.51,767.07 276.69,768.83 277.88,770.57 279.06,772.28 280.24,773.97 281.43,775.63 282.61,777.26 283.80,778.87 284.98,780.46 286.17,782.02 287.35,783.56 288.53,785.08 289.72,786.58 290.90,788.06 292.09,789.52 293.27,790.96 294.46,792.38 295.64,793.79 296.82,795.17 298.01,796.53 299.19,797.87 300.38,799.20 301.56,800.50 302.75,801.79 303.93,803.05 305.11,804.30 306.30,805.53 307.48,806.73 308.67,807.92 309.85,809.09 311.04,810.24 312.22,811.36 313.40,812.47 314.59,813.56 315.77,814.62 316.96,815.67 318.14,816.69 319.33,817.70 320.51,818.68 321.69,819.64 322.88,820.59 324.06,821.51 325.25,822.41 326.43,823.29 327.61,824.14 328.80,824.98 329.98,825.80 331.17,826.59 332.35,827.37 333.54,828.13 334.72,828.86 335.90,829.58 337.09,830.27 338.27,830.95 339.46,831.60 340.64,832.24 341.83,832.86 343.01,833.46 344.19,834.04 345.38,834.60 346.56,835.14 347.75,835.67 348.93,836.18 350.12,836.67 351.30,837.15" fill="none" stroke="#000" stroke-width="1.5" stroke-linejoin="round"/>
<polyline points="83.66,760.83 84.84,755.19 86.03,749.46 87.21,743.65 88.40,737.79 89.58,731.92 90.76,726.07 91.95,720.26 93.13,714.54 94.32,708.94 95.50,703.50 96.69,698.24 97.87,693.22 99.05,688.46 100.24,683.99 101.42,679.86 102.61,676.08 103.79,672.70 104.97,669.73 106.16,667.21 107.34,665.14 108.53,663.55 109.71,662.45 110.90,661.84 112.08,661.74 113.26,662.15 114.45,663.05 115.63,664.45 116.82,666.32 118.00,668.67 119.19,671.46 120.37,674.68 121.55,678.30 122.74,682.30 123.92,686.63 125.11,691.28 126.29,696.20 127.48,701.37 128.66,706.74 129.84,712.29 131.03,717.96 132.21,723.74 133.40,729.58 134.58,735.45 135.77,741.31 136.95,747.14 138.13,752.91 139.32,758.59 140.50,764.15 141.69,769.58 142.87,774.86 144.06,779.96 145.24,784.87 146.42,789.59 147.61,794.09 148.79,798.38 149.98,802.45 151.16,806.29 152.35,809.91 153.53,813.31 154.71,816.48 155.90,819.44 157.08,822.18 158.27,824.72 159.45,827.06 160.63,829.21 161.82,831.18 163.00,832.98 164.19,834.62 165.37,836.11 166.56,837.45 167.74,838.66 168.92,839.75 170.11,840.72 171.29,841.59 172.48,842.36 173.66,843.05 174.85,843.66 176.03,844.19 177.21,844.66 178.40,845.08 179.58,845.44 180.77,845.75 181.95,846.02 183.14,846.26 184.32,846.46 185.50,846.64 186.69,846.79 187.87,846.92 189.06,847.03 190.24,847.12 191.43,847.20 192.61,847.27 193.79,847.32 194.98,847.37 196.16,847.41 197.35,847.45 198.53,847.47 199.72,847.50 200.90,847.52 202.08,847.53 203.27,847.54 204.45,847.55 205.64,847.56 206.82,847.57 208.01,847.58 209.19,847.58 210.37,847.58 211.56,847.59 212.74,847.59 213.93,847.59 215.11,847.59 216.29,847.60 217.48,847.60 218.66,847.60 219.85,847.60 221.03,847.60 222.22,847.60 223.40,847.60 224.58,847.60 225.77,847.60 226.95,847.60 228.14,847.60 229.32,847.60 230.51,847.60 231.69,847.60 232.87,847.60 234.06,847.60 235.24,847.60 236.43,847.60 237.61,847.60 238.80,847.60 239.98,847.60 241.16,847.60 242.35,847.60 243.53,847.60 244.72,847.60 245.90,847.60 247.09,847.60 248.27,847.60 249.45,847.60 250.64,847.60 251.82,847.60 253.01,847.60 254.19,847.60 255.38,847.60 256.56,847.60 257.74,847.60 258.93,847.60 260.11,847.60 261.30,847.60 262.48,847.60 263.67,847.60 264.85,847.60 266.03,847.60 267.22,847.60 268.40,847.60 269.59,847.60 270.77,847.60 271.95,847.60 273.14,847.60 274.32,847.60 275.51,847.60 276.69,847.60 277.88,847.60 279.06,847.60 280.24,847.60 281.43,847.60 282.61,847.60 283.80,847.60 284.98,847.60 286.17,847.60 287.35,847.60 288.53,847.60 289.72,847.60 290.90,847.60 292.09,847.60 293.27,847.60 294.46,847.60 295.64,847.60 296.82,847.60 298.01,847.60 299.19,847.60 300.38,847.60 301.56,847.60 302.75,847.60 303.93,847.60 305.11,847.60 306.30,847.60 307.48,847.60 308.67,847.60 309.85,847.60 311.04,847.60 312.22,847.60 313.40,847.60 314.59,847.60 315.77,847.60 316.96,847.60 318.14,847.60 319.33,847.60 320.51,847.60 321.69,847.60 322.88,847.60 324.06,847.60 325.25,847.60 326.43,847.60 327.61,847.60 328.80,847.60 329.98,847.60 331.17,847.60 332.35,847.60 333.54,847.60 334.72,847.60 335.90,847.60 337.09,847.60 338.27,847.60 339.46,847.60 340.64,847.60 341.83,847.60 343.01,847.60 344.19,847.60 345.38,847.60 346.56,847.60 347.75,847.60 348.93,847.60 350.12,847.60 351.30,847.60" fill="none" stroke="#ff0000" stroke-width="1.9" stroke-linejoin="round"/>
<polyline points="83.66,847.60 84.84,847.60 86.03,847.60 87.21,847.60 88.40,847.60 89.58,847.60 90.76,847.60 91.95,847.60 93.13,847.59 94.32,847.59 95.50,847.59 96.69,847.59 97.87,847.58 99.05,847.57 100.24,847.56 101.42,847.55 102.61,847.54 103.79,847.51 104.97,847.49 106.16,847.45 107.34,847.41 108.53,847.35 109.71,847.28 110.90,847.19 112.08,847.08 113.26,846.94 114.45,846.77 115.63,846.57 116.82,846.32 118.00,846.03 119.19,845.67 120.37,845.26 121.55,844.77 122.74,844.21 123.92,843.55 125.11,842.80 126.29,841.95 127.48,841.00 128.66,839.92 129.84,838.74 131.03,837.43 132.21,836.00 133.40,834.46 134.58,832.81 135.77,831.06 136.95,829.21 138.13,827.30 139.32,825.32 140.50,823.31 141.69,821.29 142.87,819.28 144.06,817.31 145.24,815.41 146.42,813.61 147.61,811.94 148.79,810.43 149.98,809.09 151.16,807.97 152.35,807.07 153.53,806.42 154.71,806.02 155.90,805.89 157.08,806.05 158.27,806.51 159.45,807.28 160.63,808.34 161.82,809.65 163.00,811.20 164.19,812.94 165.37,814.85 166.56,816.89 167.74,819.02 168.92,821.20 170.11,823.40 171.29,825.58 172.48,827.72 173.66,829.78 174.85,831.75 176.03,833.61 177.21,835.35 178.40,836.95 179.58,838.41 180.77,839.73 181.95,840.91 183.14,841.95 184.32,842.87 185.50,843.67 186.69,844.36 187.87,844.95 189.06,845.45 190.24,845.86 191.43,846.21 192.61,846.50 193.79,846.73 194.98,846.92 196.16,847.07 197.35,847.19 198.53,847.29 199.72,847.36 200.90,847.42 202.08,847.47 203.27,847.50 204.45,847.53 205.64,847.55 206.82,847.56 208.01,847.57 209.19,847.58 210.37,847.59 211.56,847.59 212.74,847.59 213.93,847.60 215.11,847.60 216.29,847.60 217.48,847.60 218.66,847.60 219.85,847.60 221.03,847.60 222.22,847.60 223.40,847.60 224.58,847.60 225.77,847.60 226.95,847.60 228.14,847.60 229.32,847.60 230.51,847.60 231.69,847.60 232.87,847.60 234.06,847.60 235.24,847.60 236.43,847.60 237.61,847.60 238.80,847.60 239.98,847.60 241.16,847.60 242.35,847.60 243.53,847.60 244.72,847.60 245.90,847.60 247.09,847.60 248.27,847.60 249.45,847.60 250.64,847.60 251.82,847.60 253.01,847.60 254.19,847.60 255.38,847.60 256.56,847.60 257.74,847.60 258.93,847.60 260.11,847.60 261.30,847.60 262.48,847.60 263.67,847.60 264.85,847.60 266.03,847.60 267.22,847.60 268.40,847.60 269.59,847.60 270.77,847.60 271.95,847.60 273.14,847.60 274.32,847.60 275.51,847.60 276.69,847.60 277.88,847.60 279.06,847.60 280.24,847.60 281.43,847.60 282.61,847.60 283.80,847.60 284.98,847.60 286.17,847.60 287.35,847.60 288.53,847.60 289.72,847.60 290.90,847.60 292.09,847.60 293.27,847.60 294.46,847.60 295.64,847.60 296.82,847.60 298.01,847.60 299.19,847.60 300.38,847.60 301.56,847.60 302.75,847.60 303.93,847.60 305.11,847.60 306.30,847.60 307.48,847.60 308.67,847.60 309.85,847.60 311.04,847.60 312.22,847.60 313.40,847.60 314.59,847.60 315.77,847.60 316.96,847.60 318.14,847.60 319.33,847.60 320.51,847.60 321.69,847.60 322.88,847.60 324.06,847.60 325.25,847.60 326.43,847.60 327.61,847.60 328.80,847.60 329.98,847.60 331.17,847.60 332.35,847.60 333.54,847.60 334.72,847.60 335.90,847.60 337.09,847.60 338.27,847.60 339.46,847.60 340.64,847.60 341.83,847.60 343.01,847.60 344.19,847.60 345.38,847.60 346.56,847.60 347.75,847.60 348.93,847.60 350.12,847.60 351.30,847.60" fill="none" stroke="#0000ff" stroke-width="1.9" stroke-linejoin="round"/>
<polyline points="83.66,847.23 84.84,847.18 86.03,847.12 87.21,847.05 88.40,846.97 89.58,846.88 90.76,846.78 91.95,846.67 93.13,846.54 94.32,846.40 95.50,846.25 96.69,846.07 97.87,845.87 99.05,845.66 100.24,845.41 101.42,845.15 102.61,844.85 103.79,844.52 104.97,844.16 106.16,843.76 107.34,843.32 108.53,842.84 109.71,842.31 110.90,841.73 112.08,841.10 113.26,840.42 114.45,839.67 115.63,838.87 116.82,837.99 118.00,837.04 119.19,836.02 120.37,834.92 121.55,833.73 122.74,832.46 123.92,831.09 125.11,829.63 126.29,828.08 127.48,826.42 128.66,824.65 129.84,822.78 131.03,820.80 132.21,818.70 133.40,816.49 134.58,814.16 135.77,811.72 136.95,809.15 138.13,806.47 139.32,803.67 140.50,800.74 141.69,797.71 142.87,794.56 144.06,791.29 145.24,787.93 146.42,784.45 147.61,780.88 148.79,777.22 149.98,773.48 151.16,769.65 152.35,765.76 153.53,761.80 154.71,757.80 155.90,753.75 157.08,749.68 158.27,745.59 159.45,741.49 160.63,737.40 161.82,733.34 163.00,729.30 164.19,725.32 165.37,721.40 166.56,717.56 167.74,713.81 168.92,710.16 170.11,706.64 171.29,703.25 172.48,700.02 173.66,696.94 174.85,694.04 176.03,691.33 177.21,688.82 178.40,686.52 179.58,684.45 180.77,682.60 181.95,680.99 183.14,679.63 184.32,678.53 185.50,677.68 186.69,677.10 187.87,676.78 189.06,676.72 190.24,676.90 191.43,677.29 192.61,677.90 193.79,678.73 194.98,679.77 196.16,681.01 197.35,682.46 198.53,684.11 199.72,685.95 200.90,687.97 202.08,690.17 203.27,692.54 204.45,695.07 205.64,697.75 206.82,700.57 208.01,703.52 209.19,706.60 210.37,709.79 211.56,713.08 212.74,716.45 213.93,719.91 215.11,723.44 216.29,727.02 217.48,730.65 218.66,734.32 219.85,738.01 221.03,741.72 222.22,745.44 223.40,749.15 224.58,752.85 225.77,756.52 226.95,760.17 228.14,763.77 229.32,767.34 230.51,770.85 231.69,774.30 232.87,777.68 234.06,781.00 235.24,784.23 236.43,787.39 237.61,790.47 238.80,793.45 239.98,796.35 241.16,799.15 242.35,801.86 243.53,804.48 244.72,806.99 245.90,809.41 247.09,811.73 248.27,813.96 249.45,816.08 250.64,818.11 251.82,820.04 253.01,821.88 254.19,823.63 255.38,825.29 256.56,826.86 257.74,828.34 258.93,829.75 260.11,831.07 261.30,832.31 262.48,833.48 263.67,834.57 264.85,835.60 266.03,836.55 267.22,837.45 268.40,838.28 269.59,839.06 270.77,839.78 271.95,840.45 273.14,841.08 274.32,841.65 275.51,842.18 276.69,842.67 277.88,843.12 279.06,843.54 280.24,843.92 281.43,844.27 282.61,844.59 283.80,844.88 284.98,845.15 286.17,845.40 287.35,845.62 288.53,845.82 289.72,846.00 290.90,846.17 292.09,846.32 293.27,846.46 294.46,846.58 295.64,846.69 296.82,846.79 298.01,846.88 299.19,846.96 300.38,847.04 301.56,847.10 302.75,847.16 303.93,847.21 305.11,847.26 306.30,847.30 307.48,847.33 308.67,847.37 309.85,847.39 311.04,847.42 312.22,847.44 313.40,847.46 314.59,847.48 315.77,847.50 316.96,847.51 318.14,847.52 319.33,847.53 320.51,847.54 321.69,847.55 322.88,847.56 324.06,847.56 325.25,847.57 326.43,847.57 327.61,847.58 328.80,847.58 329.98,847.58 331.17,847.58 332.35,847.59 333.54,847.59 334.72,847.59 335.90,847.59 337.09,847.59 338.27,847.59 339.46,847.59 340.64,847.60 341.83,847.60 343.01,847.60 344.19,847.60 345.38,847.60 346.56,847.60 347.75,847.60 348.93,847.60 350.12,847.60 351.30,847.60" fill="none" stroke="#008000" stroke-width="1.9" stroke-linejoin="round"/>
<polyline points="83.66,846.01 84.84,845.90 86.03,845.78 87.21,845.66 88.40,845.53 89.58,845.39 90.76,845.24 91.95,845.08 93.13,844.91 94.32,844.74 95.50,844.55 96.69,844.36 97.87,844.15 99.05,843.93 100.24,843.70 101.42,843.46 102.61,843.21 103.79,842.94 104.97,842.66 106.16,842.37 107.34,842.06 108.53,841.73 109.71,841.40 110.90,841.04 112.08,840.67 113.26,840.28 114.45,839.87 115.63,839.45 116.82,839.01 118.00,838.55 119.19,838.07 120.37,837.56 121.55,837.04 122.74,836.50 123.92,835.94 125.11,835.35 126.29,834.74 127.48,834.11 128.66,833.46 129.84,832.78 131.03,832.08 132.21,831.36 133.40,830.61 134.58,829.83 135.77,829.03 136.95,828.21 138.13,827.36 139.32,826.48 140.50,825.58 141.69,824.65 142.87,823.70 144.06,822.72 145.24,821.72 146.42,820.69 147.61,819.63 148.79,818.55 149.98,817.44 151.16,816.31 152.35,815.16 153.53,813.98 154.71,812.77 155.90,811.55 157.08,810.30 158.27,809.03 159.45,807.74 160.63,806.42 161.82,805.09 163.00,803.74 164.19,802.37 165.37,800.99 166.56,799.59 167.74,798.17 168.92,796.74 170.11,795.30 171.29,793.84 172.48,792.38 173.66,790.91 174.85,789.43 176.03,787.95 177.21,786.46 178.40,784.97 179.58,783.48 180.77,781.99 181.95,780.50 183.14,779.02 184.32,777.54 185.50,776.07 186.69,774.61 187.87,773.16 189.06,771.73 190.24,770.31 191.43,768.90 192.61,767.52 193.79,766.15 194.98,764.81 196.16,763.50 197.35,762.21 198.53,760.94 199.72,759.71 200.90,758.51 202.08,757.34 203.27,756.21 204.45,755.12 205.64,754.06 206.82,753.05 208.01,752.07 209.19,751.14 210.37,750.26 211.56,749.42 212.74,748.63 213.93,747.89 215.11,747.19 216.29,746.55 217.48,745.96 218.66,745.43 219.85,744.95 221.03,744.52 222.22,744.15 223.40,743.83 224.58,743.57 225.77,743.37 226.95,743.23 228.14,743.14 229.32,743.11 230.51,743.13 231.69,743.20 232.87,743.32 234.06,743.47 235.24,743.68 236.43,743.92 237.61,744.22 238.80,744.55 239.98,744.93 241.16,745.35 242.35,745.82 243.53,746.33 244.72,746.87 245.90,747.46 247.09,748.09 248.27,748.76 249.45,749.46 250.64,750.21 251.82,750.98 253.01,751.80 254.19,752.65 255.38,753.53 256.56,754.44 257.74,755.39 258.93,756.36 260.11,757.37 261.30,758.40 262.48,759.46 263.67,760.54 264.85,761.65 266.03,762.78 267.22,763.93 268.40,765.10 269.59,766.29 270.77,767.50 271.95,768.73 273.14,769.97 274.32,771.22 275.51,772.49 276.69,773.76 277.88,775.05 279.06,776.34 280.24,777.65 281.43,778.96 282.61,780.27 283.80,781.59 284.98,782.90 286.17,784.22 287.35,785.54 288.53,786.86 289.72,788.18 290.90,789.49 292.09,790.80 293.27,792.11 294.46,793.40 295.64,794.69 296.82,795.98 298.01,797.25 299.19,798.51 300.38,799.76 301.56,801.00 302.75,802.23 303.93,803.44 305.11,804.64 306.30,805.83 307.48,807.00 308.67,808.16 309.85,809.29 311.04,810.42 312.22,811.52 313.40,812.61 314.59,813.68 315.77,814.73 316.96,815.76 318.14,816.77 319.33,817.77 320.51,818.74 321.69,819.70 322.88,820.63 324.06,821.55 325.25,822.44 326.43,823.31 327.61,824.17 328.80,825.00 329.98,825.82 331.17,826.61 332.35,827.38 333.54,828.14 334.72,828.87 335.90,829.58 337.09,830.28 338.27,830.95 339.46,831.61 340.64,832.24 341.83,832.86 343.01,833.46 344.19,834.04 345.38,834.60 346.56,835.14 347.75,835.67 348.93,836.18 350.12,836.67 351.30,837.15" fill="none" stroke="#00ffff" stroke-width="1.9" stroke-linejoin="round"/>
<circle cx="271.50" cy="591.90" r="2.95" fill="none" stroke="#000" stroke-width="1.4"/>
<text x="288.30" y="595.20" font-size="9.5" font-weight="bold" fill="#111">spectrum</text>
<line x1="259.80" y1="606.30" x2="283.20" y2="606.30" stroke="#000" stroke-width="1.7"/>
<text x="288.30" y="609.70" font-size="9.5" font-weight="bold" fill="#111">fit</text>
<line x1="259.80" y1="620.70" x2="283.20" y2="620.70" stroke="#ff0000" stroke-width="1.7"/>
<text x="288.30" y="624.10" font-size="9.5" font-weight="bold" fill="#111">398 nm</text>
<line x1="259.80" y1="635.10" x2="283.20" y2="635.10" stroke="#0000ff" stroke-width="1.7"/>
<text x="288.30" y="638.50" font-size="9.5" font-weight="bold" fill="#111">436 nm</text>
<line x1="259.80" y1="649.50" x2="283.20" y2="649.50" stroke="#008000" stroke-width="1.7"/>
<text x="288.30" y="652.90" font-size="9.5" font-weight="bold" fill="#111">462 nm</text>
<line x1="259.80" y1="663.90" x2="283.20" y2="663.90" stroke="#00ffff" stroke-width="1.7"/>
<text x="288.30" y="667.30" font-size="9.5" font-weight="bold" fill="#111">498nm</text>
<rect x="432.40" y="574.26" width="278.30" height="273.34" fill="none" stroke="#000" stroke-width="1.7"/>
<path d="M432.40,847.60h5.0 M432.40,837.17h3.2 M432.40,826.74h3.2 M432.40,816.32h3.2 M432.40,805.89h3.2 M432.40,795.46h5.0 M432.40,785.03h3.2 M432.40,774.60h3.2 M432.40,764.18h3.2 M432.40,753.75h3.2 M432.40,743.32h5.0 M432.40,732.89h3.2 M432.40,722.46h3.2 M432.40,712.04h3.2 M432.40,701.61h3.2 M432.40,691.18h5.0 M432.40,680.75h3.2 M432.40,670.32h3.2 M432.40,659.90h3.2 M432.40,649.47h3.2 M432.40,639.04h5.0 M432.40,628.61h3.2 M432.40,618.18h3.2 M432.40,607.76h3.2 M432.40,597.33h3.2 M432.40,586.90h5.0 M432.40,576.47h3.2 M439.51,847.60v-3.2 M447.80,847.60v-3.2 M456.09,847.60v-5.0 M464.37,847.60v-3.2 M472.66,847.60v-3.2 M480.95,847.60v-3.2 M489.24,847.60v-3.2 M497.53,847.60v-5.0 M505.82,847.60v-3.2 M514.11,847.60v-3.2 M522.40,847.60v-3.2 M530.69,847.60v-3.2 M538.98,847.60v-5.0 M547.27,847.60v-3.2 M555.56,847.60v-3.2 M563.85,847.60v-3.2 M572.14,847.60v-3.2 M580.43,847.60v-5.0 M588.72,847.60v-3.2 M597.01,847.60v-3.2 M605.30,847.60v-3.2 M613.59,847.60v-3.2 M621.88,847.60v-5.0 M630.17,847.60v-3.2 M638.46,847.60v-3.2 M646.75,847.60v-3.2 M655.04,847.60v-3.2 M663.33,847.60v-5.0 M671.62,847.60v-3.2 M679.91,847.60v-3.2 M688.20,847.60v-3.2 M696.49,847.60v-3.2 M704.78,847.60v-5.0" stroke="#000" stroke-width="1.4" fill="none"/>
<text x="424.60" y="852.90" font-size="15" text-anchor="end" fill="#222" stroke="#222" stroke-width="0.25">0.0</text>
<text x="424.60" y="800.76" font-size="15" text-anchor="end" fill="#222" stroke="#222" stroke-width="0.25">0.2</text>
<text x="424.60" y="748.62" font-size="15" text-anchor="end" fill="#222" stroke="#222" stroke-width="0.25">0.4</text>
<text x="424.60" y="696.48" font-size="15" text-anchor="end" fill="#222" stroke="#222" stroke-width="0.25">0.6</text>
<text x="424.60" y="644.34" font-size="15" text-anchor="end" fill="#222" stroke="#222" stroke-width="0.25">0.8</text>
<text x="424.60" y="592.20" font-size="15" text-anchor="end" fill="#222" stroke="#222" stroke-width="0.25">1.0</text>
<text x="456.09" y="868.40" font-size="15" text-anchor="middle" fill="#222" stroke="#222" stroke-width="0.25">385</text>
<text x="497.53" y="868.40" font-size="15" text-anchor="middle" fill="#222" stroke="#222" stroke-width="0.25">420</text>
<text x="538.98" y="868.40" font-size="15" text-anchor="middle" fill="#222" stroke="#222" stroke-width="0.25">455</text>
<text x="580.43" y="868.40" font-size="15" text-anchor="middle" fill="#222" stroke="#222" stroke-width="0.25">490</text>
<text x="621.88" y="868.40" font-size="15" text-anchor="middle" fill="#222" stroke="#222" stroke-width="0.25">525</text>
<text x="663.33" y="868.40" font-size="15" text-anchor="middle" fill="#222" stroke="#222" stroke-width="0.25">560</text>
<text x="704.78" y="868.40" font-size="15" text-anchor="middle" fill="#222" stroke="#222" stroke-width="0.25">595</text>
<text x="570.75" y="897.90" font-size="17.2" text-anchor="middle" fill="#222" stroke="#222" stroke-width="0.2">Wavelength, nm</text>
<text transform="translate(389.00,710.73) rotate(-90)" font-size="17" text-anchor="middle" fill="#222" stroke="#222" stroke-width="0.2">Bioluminescence</text>
<g fill="none" stroke="#000" stroke-width="1.3"><circle cx="443.06" cy="762.61" r="3.1"/><circle cx="444.24" cy="754.79" r="3.1"/><circle cx="445.43" cy="740.71" r="3.1"/><circle cx="446.61" cy="721.42" r="3.1"/><circle cx="447.80" cy="717.25" r="3.1"/><circle cx="448.98" cy="702.65" r="3.1"/><circle cx="450.16" cy="691.18" r="3.1"/><circle cx="451.35" cy="682.32" r="3.1"/><circle cx="452.53" cy="674.50" r="3.1"/><circle cx="453.72" cy="667.72" r="3.1"/><circle cx="454.90" cy="659.90" r="3.1"/><circle cx="456.09" cy="654.68" r="3.1"/><circle cx="457.27" cy="649.47" r="3.1"/><circle cx="458.45" cy="644.25" r="3.1"/><circle cx="459.64" cy="636.43" r="3.1"/><circle cx="460.82" cy="628.61" r="3.1"/><circle cx="462.01" cy="634.62" r="3.1"/><circle cx="463.19" cy="613.44" r="3.1"/><circle cx="464.37" cy="615.94" r="3.1"/><circle cx="465.56" cy="617.93" r="3.1"/><circle cx="466.74" cy="623.35" r="3.1"/><circle cx="467.93" cy="612.98" r="3.1"/><circle cx="469.11" cy="610.61" r="3.1"/><circle cx="470.30" cy="620.62" r="3.1"/><circle cx="471.48" cy="592.73" r="3.1"/><circle cx="472.66" cy="607.52" r="3.1"/><circle cx="473.85" cy="597.75" r="3.1"/><circle cx="475.03" cy="621.24" r="3.1"/><circle cx="476.22" cy="600.76" r="3.1"/><circle cx="477.40" cy="626.37" r="3.1"/><circle cx="478.59" cy="622.75" r="3.1"/><circle cx="479.77" cy="615.59" r="3.1"/><circle cx="480.95" cy="621.90" r="3.1"/><circle cx="482.14" cy="643.20" r="3.1"/><circle cx="483.32" cy="635.93" r="3.1"/><circle cx="484.51" cy="623.41" r="3.1"/><circle cx="485.69" cy="616.30" r="3.1"/><circle cx="486.88" cy="627.72" r="3.1"/><circle cx="488.06" cy="639.05" r="3.1"/><circle cx="489.24" cy="632.91" r="3.1"/><circle cx="490.43" cy="649.42" r="3.1"/><circle cx="491.61" cy="638.47" r="3.1"/><circle cx="492.80" cy="653.73" r="3.1"/><circle cx="493.98" cy="644.66" r="3.1"/><circle cx="495.17" cy="646.28" r="3.1"/><circle cx="496.35" cy="639.69" r="3.1"/><circle cx="497.53" cy="648.08" r="3.1"/><circle cx="498.72" cy="636.63" r="3.1"/><circle cx="499.90" cy="646.65" r="3.1"/><circle cx="501.09" cy="638.16" r="3.1"/><circle cx="502.27" cy="637.54" r="3.1"/><circle cx="503.46" cy="656.14" r="3.1"/><circle cx="504.64" cy="640.54" r="3.1"/><circle cx="505.82" cy="638.93" r="3.1"/><circle cx="507.01" cy="643.35" r="3.1"/><circle cx="508.19" cy="634.12" r="3.1"/><circle cx="509.38" cy="644.62" r="3.1"/><circle cx="510.56" cy="627.02" r="3.1"/><circle cx="511.75" cy="625.16" r="3.1"/><circle cx="512.93" cy="624.52" r="3.1"/><circle cx="514.11" cy="605.25" r="3.1"/><circle cx="515.30" cy="619.56" r="3.1"/><circle cx="516.48" cy="619.54" r="3.1"/><circle cx="517.67" cy="623.65" r="3.1"/><circle cx="518.85" cy="613.35" r="3.1"/><circle cx="520.03" cy="621.31" r="3.1"/><circle cx="521.22" cy="601.49" r="3.1"/><circle cx="522.40" cy="614.98" r="3.1"/><circle cx="523.59" cy="606.75" r="3.1"/><circle cx="524.77" cy="590.34" r="3.1"/><circle cx="525.96" cy="595.49" r="3.1"/><circle cx="527.14" cy="601.61" r="3.1"/><circle cx="528.32" cy="591.18" r="3.1"/><circle cx="529.51" cy="601.82" r="3.1"/><circle cx="530.69" cy="594.04" r="3.1"/><circle cx="531.88" cy="599.70" r="3.1"/><circle cx="533.06" cy="606.75" r="3.1"/><circle cx="534.25" cy="595.51" r="3.1"/><circle cx="535.43" cy="591.24" r="3.1"/><circle cx="536.61" cy="601.75" r="3.1"/><circle cx="537.80" cy="608.11" r="3.1"/><circle cx="538.98" cy="603.86" r="3.1"/><circle cx="540.17" cy="619.54" r="3.1"/><circle cx="541.35" cy="605.83" r="3.1"/><circle cx="542.54" cy="610.56" r="3.1"/><circle cx="543.72" cy="586.49" r="3.1"/><circle cx="544.90" cy="608.77" r="3.1"/><circle cx="546.09" cy="618.10" r="3.1"/><circle cx="547.27" cy="600.20" r="3.1"/><circle cx="548.46" cy="610.38" r="3.1"/><circle cx="549.64" cy="610.48" r="3.1"/><circle cx="550.83" cy="611.41" r="3.1"/><circle cx="552.01" cy="613.44" r="3.1"/><circle cx="553.19" cy="620.38" r="3.1"/><circle cx="554.38" cy="612.34" r="3.1"/><circle cx="555.56" cy="618.32" r="3.1"/><circle cx="556.75" cy="628.97" r="3.1"/><circle cx="557.93" cy="629.21" r="3.1"/><circle cx="559.12" cy="638.05" r="3.1"/><circle cx="560.30" cy="631.58" r="3.1"/><circle cx="561.48" cy="631.16" r="3.1"/><circle cx="562.67" cy="634.99" r="3.1"/><circle cx="563.85" cy="638.50" r="3.1"/><circle cx="565.04" cy="647.35" r="3.1"/><circle cx="566.22" cy="638.01" r="3.1"/><circle cx="567.41" cy="654.64" r="3.1"/><circle cx="568.59" cy="656.31" r="3.1"/><circle cx="569.77" cy="662.44" r="3.1"/><circle cx="570.96" cy="662.89" r="3.1"/><circle cx="572.14" cy="668.71" r="3.1"/><circle cx="573.33" cy="656.10" r="3.1"/><circle cx="574.51" cy="671.06" r="3.1"/><circle cx="575.69" cy="689.35" r="3.1"/><circle cx="576.88" cy="684.15" r="3.1"/><circle cx="578.06" cy="694.40" r="3.1"/><circle cx="579.25" cy="682.24" r="3.1"/><circle cx="580.43" cy="682.47" r="3.1"/><circle cx="581.62" cy="698.23" r="3.1"/><circle cx="582.80" cy="694.63" r="3.1"/><circle cx="583.98" cy="703.50" r="3.1"/><circle cx="585.17" cy="702.88" r="3.1"/><circle cx="586.35" cy="697.77" r="3.1"/><circle cx="587.54" cy="714.45" r="3.1"/><circle cx="588.72" cy="723.28" r="3.1"/><circle cx="589.91" cy="714.27" r="3.1"/><circle cx="591.09" cy="718.76" r="3.1"/><circle cx="592.27" cy="720.97" r="3.1"/><circle cx="593.46" cy="721.97" r="3.1"/><circle cx="594.64" cy="735.30" r="3.1"/><circle cx="595.83" cy="745.86" r="3.1"/><circle cx="597.01" cy="731.02" r="3.1"/><circle cx="598.20" cy="742.37" r="3.1"/><circle cx="599.38" cy="749.75" r="3.1"/><circle cx="600.56" cy="752.21" r="3.1"/><circle cx="601.75" cy="741.91" r="3.1"/><circle cx="602.93" cy="749.88" r="3.1"/><circle cx="604.12" cy="751.80" r="3.1"/><circle cx="605.30" cy="751.34" r="3.1"/><circle cx="606.49" cy="762.09" r="3.1"/><circle cx="607.67" cy="766.85" r="3.1"/><circle cx="608.85" cy="767.69" r="3.1"/><circle cx="610.04" cy="771.25" r="3.1"/><circle cx="611.22" cy="769.20" r="3.1"/><circle cx="612.41" cy="774.43" r="3.1"/><circle cx="613.59" cy="771.79" r="3.1"/><circle cx="614.78" cy="776.47" r="3.1"/><circle cx="615.96" cy="776.46" r="3.1"/><circle cx="617.14" cy="774.84" r="3.1"/><circle cx="618.33" cy="773.13" r="3.1"/><circle cx="619.51" cy="774.32" r="3.1"/><circle cx="620.70" cy="783.08" r="3.1"/><circle cx="621.88" cy="784.39" r="3.1"/><circle cx="623.07" cy="789.49" r="3.1"/><circle cx="624.25" cy="784.15" r="3.1"/><circle cx="625.43" cy="783.44" r="3.1"/><circle cx="626.62" cy="794.72" r="3.1"/><circle cx="627.80" cy="790.17" r="3.1"/><circle cx="628.99" cy="796.58" r="3.1"/><circle cx="630.17" cy="797.35" r="3.1"/><circle cx="631.35" cy="797.24" r="3.1"/><circle cx="632.54" cy="801.18" r="3.1"/><circle cx="633.72" cy="797.02" r="3.1"/><circle cx="634.91" cy="808.48" r="3.1"/><circle cx="636.09" cy="806.39" r="3.1"/><circle cx="637.28" cy="805.26" r="3.1"/><circle cx="638.46" cy="810.29" r="3.1"/><circle cx="639.64" cy="805.78" r="3.1"/><circle cx="640.83" cy="814.49" r="3.1"/><circle cx="642.01" cy="809.38" r="3.1"/><circle cx="643.20" cy="816.38" r="3.1"/><circle cx="644.38" cy="812.41" r="3.1"/><circle cx="645.57" cy="810.99" r="3.1"/><circle cx="646.75" cy="805.63" r="3.1"/><circle cx="647.93" cy="810.99" r="3.1"/><circle cx="649.12" cy="810.04" r="3.1"/><circle cx="650.30" cy="816.79" r="3.1"/><circle cx="651.49" cy="810.31" r="3.1"/><circle cx="652.67" cy="819.83" r="3.1"/><circle cx="653.86" cy="820.78" r="3.1"/><circle cx="655.04" cy="825.31" r="3.1"/><circle cx="656.22" cy="820.90" r="3.1"/><circle cx="657.41" cy="818.90" r="3.1"/><circle cx="658.59" cy="825.54" r="3.1"/><circle cx="659.78" cy="825.45" r="3.1"/><circle cx="660.96" cy="826.55" r="3.1"/><circle cx="662.15" cy="826.88" r="3.1"/><circle cx="663.33" cy="828.48" r="3.1"/><circle cx="664.51" cy="831.66" r="3.1"/><circle cx="665.70" cy="823.62" r="3.1"/><circle cx="666.88" cy="834.97" r="3.1"/><circle cx="668.07" cy="832.32" r="3.1"/><circle cx="669.25" cy="829.04" r="3.1"/><circle cx="670.44" cy="827.67" r="3.1"/><circle cx="671.62" cy="832.03" r="3.1"/><circle cx="672.80" cy="832.86" r="3.1"/><circle cx="673.99" cy="832.48" r="3.1"/><circle cx="675.17" cy="833.97" r="3.1"/><circle cx="676.36" cy="831.25" r="3.1"/><circle cx="677.54" cy="835.71" r="3.1"/><circle cx="678.73" cy="837.65" r="3.1"/><circle cx="679.91" cy="836.71" r="3.1"/><circle cx="681.09" cy="835.64" r="3.1"/><circle cx="682.28" cy="833.05" r="3.1"/><circle cx="683.46" cy="832.56" r="3.1"/><circle cx="684.65" cy="838.39" r="3.1"/><circle cx="685.83" cy="841.62" r="3.1"/><circle cx="687.01" cy="841.80" r="3.1"/><circle cx="688.20" cy="833.17" r="3.1"/><circle cx="689.38" cy="840.05" r="3.1"/><circle cx="690.57" cy="838.27" r="3.1"/><circle cx="691.75" cy="835.04" r="3.1"/><circle cx="692.94" cy="841.82" r="3.1"/><circle cx="694.12" cy="840.97" r="3.1"/><circle cx="695.30" cy="842.23" r="3.1"/><circle cx="696.49" cy="843.75" r="3.1"/><circle cx="697.67" cy="839.60" r="3.1"/><circle cx="698.86" cy="839.31" r="3.1"/><circle cx="700.04" cy="846.34" r="3.1"/><circle cx="701.23" cy="840.12" r="3.1"/><circle cx="702.41" cy="843.13" r="3.1"/><circle cx="703.59" cy="842.45" r="3.1"/><circle cx="704.78" cy="842.67" r="3.1"/><circle cx="705.96" cy="846.15" r="3.1"/><circle cx="707.15" cy="844.22" r="3.1"/><circle cx="708.33" cy="845.86" r="3.1"/><circle cx="709.52" cy="839.98" r="3.1"/><circle cx="710.70" cy="839.66" r="3.1"/></g>
<polyline points="443.06,744.22 444.24,736.63 445.43,728.87 446.61,720.99 447.80,713.02 448.98,705.02 450.16,697.05 451.35,689.14 452.53,681.37 453.72,673.77 454.90,666.41 456.09,659.34 457.27,652.61 458.45,646.26 459.64,640.34 460.82,634.89 462.01,629.93 463.19,625.50 464.37,621.62 465.56,618.29 466.74,615.55 467.93,613.41 469.11,611.88 470.30,610.94 471.48,610.55 472.66,610.68 473.85,611.30 475.03,612.35 476.22,613.79 477.40,615.56 478.59,617.60 479.77,619.86 480.95,622.28 482.14,624.79 483.32,627.34 484.51,629.89 485.69,632.36 486.88,634.73 488.06,636.94 489.24,638.96 490.43,640.76 491.61,642.31 492.80,643.59 493.98,644.59 495.17,645.30 496.35,645.70 497.53,645.81 498.72,645.63 499.90,645.17 501.09,644.44 502.27,643.46 503.46,642.25 504.64,640.82 505.82,639.20 507.01,637.42 508.19,635.49 509.38,633.45 510.56,631.31 511.75,629.11 512.93,626.86 514.11,624.59 515.30,622.32 516.48,620.07 517.67,617.86 518.85,615.71 520.03,613.64 521.22,611.66 522.40,609.79 523.59,608.03 524.77,606.40 525.96,604.92 527.14,603.58 528.32,602.40 529.51,601.38 530.69,600.53 531.88,599.85 533.06,599.35 534.25,599.03 535.43,598.89 536.61,598.92 537.80,599.14 538.98,599.55 540.17,600.12 541.35,600.88 542.54,601.81 543.72,602.92 544.90,604.19 546.09,605.62 547.27,607.22 548.46,608.97 549.64,610.87 550.83,612.92 552.01,615.10 553.19,617.42 554.38,619.86 555.56,622.42 556.75,625.10 557.93,627.88 559.12,630.76 560.30,633.73 561.48,636.79 562.67,639.93 563.85,643.13 565.04,646.41 566.22,649.73 567.41,653.11 568.59,656.53 569.77,659.99 570.96,663.48 572.14,666.99 573.33,670.52 574.51,674.06 575.69,677.61 576.88,681.15 578.06,684.69 579.25,688.22 580.43,691.73 581.62,695.22 582.80,698.69 583.98,702.12 585.17,705.53 586.35,708.90 587.54,712.23 588.72,715.51 589.91,718.75 591.09,721.95 592.27,725.09 593.46,728.18 594.64,731.22 595.83,734.20 597.01,737.13 598.20,740.00 599.38,742.81 600.56,745.56 601.75,748.26 602.93,750.89 604.12,753.47 605.30,755.98 606.49,758.44 607.67,760.84 608.85,763.18 610.04,765.47 611.22,767.70 612.41,769.87 613.59,771.99 614.78,774.05 615.96,776.07 617.14,778.03 618.33,779.94 619.51,781.81 620.70,783.62 621.88,785.39 623.07,787.12 624.25,788.80 625.43,790.44 626.62,792.04 627.80,793.60 628.99,795.12 630.17,796.60 631.35,798.05 632.54,799.46 633.72,800.83 634.91,802.18 636.09,803.49 637.28,804.77 638.46,806.02 639.64,807.24 640.83,808.43 642.01,809.60 643.20,810.74 644.38,811.85 645.57,812.94 646.75,814.00 647.93,815.04 649.12,816.05 650.30,817.04 651.49,818.01 652.67,818.96 653.86,819.89 655.04,820.79 656.22,821.67 657.41,822.54 658.59,823.38 659.78,824.20 660.96,825.01 662.15,825.79 663.33,826.55 664.51,827.30 665.70,828.03 666.88,828.74 668.07,829.43 669.25,830.10 670.44,830.76 671.62,831.40 672.80,832.02 673.99,832.62 675.17,833.21 676.36,833.78 677.54,834.33 678.73,834.87 679.91,835.39 681.09,835.90 682.28,836.39 683.46,836.87 684.65,837.33 685.83,837.77 687.01,838.21 688.20,838.62 689.38,839.03 690.57,839.41 691.75,839.79 692.94,840.15 694.12,840.50 695.30,840.84 696.49,841.16 697.67,841.47 698.86,841.77 700.04,842.06 701.23,842.34 702.41,842.60 703.59,842.86 704.78,843.10 705.96,843.33 707.15,843.56 708.33,843.77 709.52,843.98 710.70,844.17" fill="none" stroke="#000" stroke-width="1.5" stroke-linejoin="round"/>
<polyline points="443.06,763.92 444.24,757.66 445.43,751.30 446.61,744.89 447.80,738.48 448.98,732.11 450.16,725.84 451.35,719.73 452.53,713.83 453.72,708.19 454.90,702.87 456.09,697.93 457.27,693.42 458.45,689.38 459.64,685.87 460.82,682.91 462.01,680.54 463.19,678.79 464.37,677.68 465.56,677.22 466.74,677.43 467.93,678.35 469.11,679.96 470.30,682.25 471.48,685.18 472.66,688.73 473.85,692.84 475.03,697.47 476.22,702.57 477.40,708.08 478.59,713.93 479.77,720.07 480.95,726.44 482.14,732.96 483.32,739.59 484.51,746.25 485.69,752.90 486.88,759.48 488.06,765.94 489.24,772.24 490.43,778.35 491.61,784.23 492.80,789.84 493.98,795.18 495.17,800.22 496.35,804.96 497.53,809.38 498.72,813.49 499.90,817.28 501.09,820.76 502.27,823.94 503.46,826.83 504.64,829.44 505.82,831.79 507.01,833.90 508.19,835.77 509.38,837.43 510.56,838.89 511.75,840.17 512.93,841.29 514.11,842.27 515.30,843.11 516.48,843.83 517.67,844.46 518.85,844.99 520.03,845.43 521.22,845.81 522.40,846.13 523.59,846.40 524.77,846.62 525.96,846.81 527.14,846.96 528.32,847.09 529.51,847.19 530.69,847.27 531.88,847.34 533.06,847.39 534.25,847.44 535.43,847.47 536.61,847.50 537.80,847.52 538.98,847.54 540.17,847.55 541.35,847.56 542.54,847.57 543.72,847.58 544.90,847.58 546.09,847.59 547.27,847.59 548.46,847.59 549.64,847.59 550.83,847.60 552.01,847.60 553.19,847.60 554.38,847.60 555.56,847.60 556.75,847.60 557.93,847.60 559.12,847.60 560.30,847.60 561.48,847.60 562.67,847.60 563.85,847.60 565.04,847.60 566.22,847.60 567.41,847.60 568.59,847.60 569.77,847.60 570.96,847.60 572.14,847.60 573.33,847.60 574.51,847.60 575.69,847.60 576.88,847.60 578.06,847.60 579.25,847.60 580.43,847.60 581.62,847.60 582.80,847.60 583.98,847.60 585.17,847.60 586.35,847.60 587.54,847.60 588.72,847.60 589.91,847.60 591.09,847.60 592.27,847.60 593.46,847.60 594.64,847.60 595.83,847.60 597.01,847.60 598.20,847.60 599.38,847.60 600.56,847.60 601.75,847.60 602.93,847.60 604.12,847.60 605.30,847.60 606.49,847.60 607.67,847.60 608.85,847.60 610.04,847.60 611.22,847.60 612.41,847.60 613.59,847.60 614.78,847.60 615.96,847.60 617.14,847.60 618.33,847.60 619.51,847.60 620.70,847.60 621.88,847.60 623.07,847.60 624.25,847.60 625.43,847.60 626.62,847.60 627.80,847.60 628.99,847.60 630.17,847.60 631.35,847.60 632.54,847.60 633.72,847.60 634.91,847.60 636.09,847.60 637.28,847.60 638.46,847.60 639.64,847.60 640.83,847.60 642.01,847.60 643.20,847.60 644.38,847.60 645.57,847.60 646.75,847.60 647.93,847.60 649.12,847.60 650.30,847.60 651.49,847.60 652.67,847.60 653.86,847.60 655.04,847.60 656.22,847.60 657.41,847.60 658.59,847.60 659.78,847.60 660.96,847.60 662.15,847.60 663.33,847.60 664.51,847.60 665.70,847.60 666.88,847.60 668.07,847.60 669.25,847.60 670.44,847.60 671.62,847.60 672.80,847.60 673.99,847.60 675.17,847.60 676.36,847.60 677.54,847.60 678.73,847.60 679.91,847.60 681.09,847.60 682.28,847.60 683.46,847.60 684.65,847.60 685.83,847.60 687.01,847.60 688.20,847.60 689.38,847.60 690.57,847.60 691.75,847.60 692.94,847.60 694.12,847.60 695.30,847.60 696.49,847.60 697.67,847.60 698.86,847.60 700.04,847.60 701.23,847.60 702.41,847.60 703.59,847.60 704.78,847.60 705.96,847.60 707.15,847.60 708.33,847.60 709.52,847.60 710.70,847.60" fill="none" stroke="#ff0000" stroke-width="1.9" stroke-linejoin="round"/>
<polyline points="443.06,828.41 444.24,827.12 445.43,825.75 446.61,824.32 447.80,822.81 448.98,821.23 450.16,819.58 451.35,817.84 452.53,816.03 453.72,814.13 454.90,812.16 456.09,810.09 457.27,807.95 458.45,805.72 459.64,803.40 460.82,800.99 462.01,798.50 463.19,795.92 464.37,793.25 465.56,790.49 466.74,787.64 467.93,784.71 469.11,781.70 470.30,778.60 471.48,775.42 472.66,772.15 473.85,768.81 475.03,765.40 476.22,761.91 477.40,758.35 478.59,754.73 479.77,751.04 480.95,747.30 482.14,743.50 483.32,739.65 484.51,735.76 485.69,731.84 486.88,727.88 488.06,723.89 489.24,719.88 490.43,715.86 491.61,711.84 492.80,707.81 493.98,703.79 495.17,699.78 496.35,695.80 497.53,691.85 498.72,687.93 499.90,684.06 501.09,680.24 502.27,676.49 503.46,672.80 504.64,669.20 505.82,665.67 507.01,662.25 508.19,658.92 509.38,655.70 510.56,652.60 511.75,649.63 512.93,646.78 514.11,644.08 515.30,641.52 516.48,639.11 517.67,636.85 518.85,634.77 520.03,632.85 521.22,631.10 522.40,629.53 523.59,628.14 524.77,626.94 525.96,625.93 527.14,625.11 528.32,624.48 529.51,624.05 530.69,623.81 531.88,623.77 533.06,623.93 534.25,624.28 535.43,624.83 536.61,625.58 537.80,626.51 538.98,627.64 540.17,628.95 541.35,630.45 542.54,632.13 543.72,633.98 544.90,636.00 546.09,638.19 547.27,640.53 548.46,643.03 549.64,645.68 550.83,648.47 552.01,651.40 553.19,654.45 554.38,657.62 555.56,660.90 556.75,664.29 557.93,667.78 559.12,671.35 560.30,675.00 561.48,678.73 562.67,682.53 563.85,686.38 565.04,690.27 566.22,694.21 567.41,698.19 568.59,702.18 569.77,706.20 570.96,710.22 572.14,714.25 573.33,718.28 574.51,722.29 575.69,726.29 576.88,730.26 578.06,734.20 579.25,738.10 580.43,741.97 581.62,745.78 582.80,749.55 583.98,753.26 585.17,756.91 586.35,760.49 587.54,764.01 588.72,767.45 589.91,770.83 591.09,774.12 592.27,777.33 593.46,780.47 594.64,783.52 595.83,786.48 597.01,789.36 598.20,792.15 599.38,794.86 600.56,797.48 601.75,800.00 602.93,802.45 604.12,804.80 605.30,807.07 606.49,809.25 607.67,811.34 608.85,813.35 610.04,815.28 611.22,817.13 612.41,818.89 613.59,820.58 614.78,822.19 615.96,823.73 617.14,825.19 618.33,826.58 619.51,827.90 620.70,829.16 621.88,830.35 623.07,831.48 624.25,832.54 625.43,833.55 626.62,834.51 627.80,835.41 628.99,836.25 630.17,837.05 631.35,837.80 632.54,838.51 633.72,839.17 634.91,839.79 636.09,840.37 637.28,840.91 638.46,841.42 639.64,841.90 640.83,842.34 642.01,842.75 643.20,843.14 644.38,843.49 645.57,843.83 646.75,844.13 647.93,844.42 649.12,844.69 650.30,844.93 651.49,845.16 652.67,845.37 653.86,845.56 655.04,845.74 656.22,845.90 657.41,846.05 658.59,846.19 659.78,846.32 660.96,846.44 662.15,846.54 663.33,846.64 664.51,846.73 665.70,846.81 666.88,846.89 668.07,846.96 669.25,847.02 670.44,847.08 671.62,847.13 672.80,847.17 673.99,847.22 675.17,847.26 676.36,847.29 677.54,847.32 678.73,847.35 679.91,847.38 681.09,847.40 682.28,847.42 683.46,847.44 684.65,847.46 685.83,847.47 687.01,847.49 688.20,847.50 689.38,847.51 690.57,847.52 691.75,847.53 692.94,847.54 694.12,847.54 695.30,847.55 696.49,847.56 697.67,847.56 698.86,847.57 700.04,847.57 701.23,847.57 702.41,847.58 703.59,847.58 704.78,847.58 705.96,847.58 707.15,847.59 708.33,847.59 709.52,847.59 710.70,847.59" fill="none" stroke="#0000ff" stroke-width="1.9" stroke-linejoin="round"/>
<polyline points="443.06,847.09 444.24,847.06 445.43,847.01 446.61,846.97 447.80,846.93 448.98,846.88 450.16,846.83 451.35,846.77 452.53,846.71 453.72,846.65 454.90,846.58 456.09,846.51 457.27,846.44 458.45,846.36 459.64,846.28 460.82,846.19 462.01,846.10 463.19,846.00 464.37,845.90 465.56,845.79 466.74,845.67 467.93,845.55 469.11,845.42 470.30,845.29 471.48,845.15 472.66,845.00 473.85,844.84 475.03,844.68 476.22,844.51 477.40,844.33 478.59,844.14 479.77,843.95 480.95,843.74 482.14,843.53 483.32,843.30 484.51,843.07 485.69,842.83 486.88,842.57 488.06,842.31 489.24,842.03 490.43,841.75 491.61,841.45 492.80,841.14 493.98,840.82 495.17,840.49 496.35,840.14 497.53,839.79 498.72,839.42 499.90,839.04 501.09,838.64 502.27,838.24 503.46,837.82 504.64,837.38 505.82,836.94 507.01,836.48 508.19,836.00 509.38,835.52 510.56,835.02 511.75,834.51 512.93,833.98 514.11,833.44 515.30,832.89 516.48,832.33 517.67,831.75 518.85,831.16 520.03,830.56 521.22,829.95 522.40,829.32 523.59,828.69 524.77,828.04 525.96,827.38 527.14,826.71 528.32,826.03 529.51,825.34 530.69,824.65 531.88,823.94 533.06,823.23 534.25,822.51 535.43,821.78 536.61,821.05 537.80,820.31 538.98,819.56 540.17,818.82 541.35,818.07 542.54,817.31 543.72,816.56 544.90,815.81 546.09,815.05 547.27,814.30 548.46,813.54 549.64,812.79 550.83,812.05 552.01,811.31 553.19,810.57 554.38,809.84 555.56,809.12 556.75,808.41 557.93,807.70 559.12,807.01 560.30,806.33 561.48,805.66 562.67,805.00 563.85,804.36 565.04,803.73 566.22,803.12 567.41,802.53 568.59,801.95 569.77,801.39 570.96,800.86 572.14,800.34 573.33,799.84 574.51,799.37 575.69,798.92 576.88,798.49 578.06,798.09 579.25,797.71 580.43,797.36 581.62,797.04 582.80,796.74 583.98,796.46 585.17,796.22 586.35,796.00 587.54,795.82 588.72,795.66 589.91,795.53 591.09,795.43 592.27,795.36 593.46,795.32 594.64,795.30 595.83,795.32 597.01,795.37 598.20,795.45 599.38,795.55 600.56,795.69 601.75,795.85 602.93,796.05 604.12,796.27 605.30,796.52 606.49,796.79 607.67,797.10 608.85,797.43 610.04,797.79 611.22,798.17 612.41,798.58 613.59,799.01 614.78,799.46 615.96,799.94 617.14,800.44 618.33,800.96 619.51,801.50 620.70,802.06 621.88,802.64 623.07,803.24 624.25,803.86 625.43,804.49 626.62,805.13 627.80,805.79 628.99,806.46 630.17,807.15 631.35,807.84 632.54,808.55 633.72,809.26 634.91,809.99 636.09,810.72 637.28,811.46 638.46,812.20 639.64,812.94 640.83,813.69 642.01,814.45 643.20,815.20 644.38,815.96 645.57,816.71 646.75,817.47 647.93,818.22 649.12,818.97 650.30,819.71 651.49,820.46 652.67,821.19 653.86,821.93 655.04,822.65 656.22,823.37 657.41,824.08 658.59,824.79 659.78,825.48 660.96,826.17 662.15,826.85 663.33,827.51 664.51,828.17 665.70,828.81 666.88,829.45 668.07,830.07 669.25,830.68 670.44,831.28 671.62,831.87 672.80,832.44 673.99,833.00 675.17,833.55 676.36,834.09 677.54,834.61 678.73,835.12 679.91,835.62 681.09,836.10 682.28,836.57 683.46,837.03 684.65,837.47 685.83,837.90 687.01,838.32 688.20,838.72 689.38,839.11 690.57,839.49 691.75,839.86 692.94,840.21 694.12,840.56 695.30,840.89 696.49,841.20 697.67,841.51 698.86,841.81 700.04,842.09 701.23,842.36 702.41,842.62 703.59,842.88 704.78,843.12 705.96,843.35 707.15,843.57 708.33,843.78 709.52,843.99 710.70,844.18" fill="none" stroke="#00ffff" stroke-width="1.9" stroke-linejoin="round"/>
<circle cx="629.75" cy="591.00" r="2.95" fill="none" stroke="#000" stroke-width="1.4"/>
<text x="646.55" y="594.30" font-size="9.5" font-weight="bold" fill="#111">spectrum</text>
<line x1="618.05" y1="605.40" x2="641.45" y2="605.40" stroke="#000" stroke-width="1.7"/>
<text x="646.55" y="608.80" font-size="9.5" font-weight="bold" fill="#111">fit</text>
<line x1="618.05" y1="619.80" x2="641.45" y2="619.80" stroke="#ff0000" stroke-width="1.7"/>
<text x="646.55" y="623.20" font-size="9.5" font-weight="bold" fill="#111">394 nm</text>
<line x1="618.05" y1="634.20" x2="641.45" y2="634.20" stroke="#0000ff" stroke-width="1.7"/>
<text x="646.55" y="637.60" font-size="9.5" font-weight="bold" fill="#111">448 nm</text>
<line x1="618.05" y1="648.60" x2="641.45" y2="648.60" stroke="#00ffff" stroke-width="1.7"/>
<text x="646.55" y="652.00" font-size="9.5" font-weight="bold" fill="#111">502 nm</text>
</svg></body></html>
